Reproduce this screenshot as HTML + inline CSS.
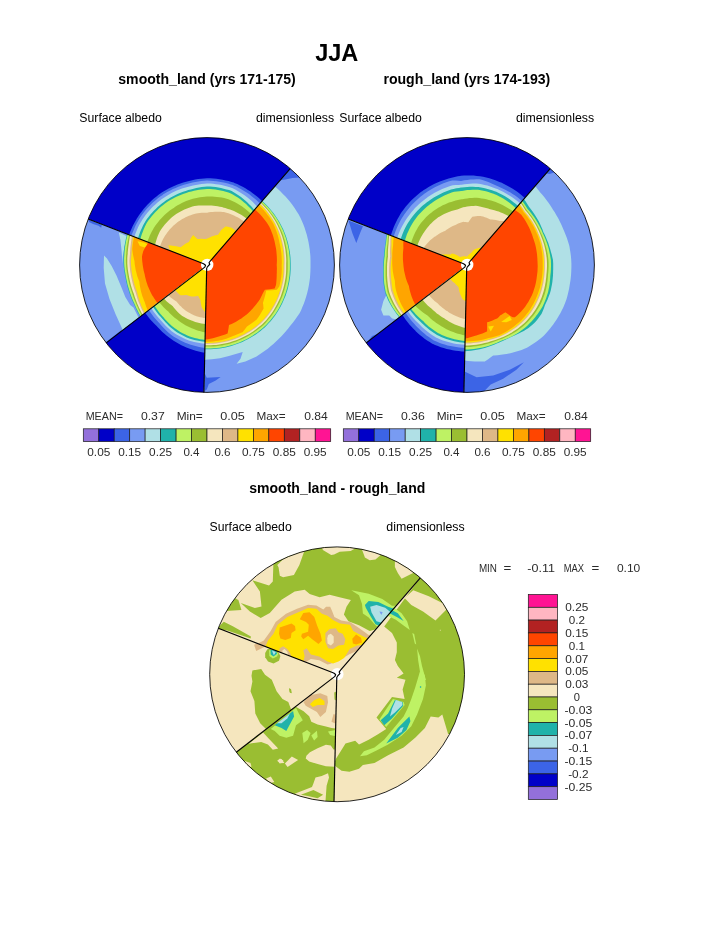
<!DOCTYPE html>
<html><head><meta charset="utf-8"><title>JJA</title>
<style>html,body{margin:0;padding:0;background:#fff}svg{display:block}</style>
</head><body>
<svg width="723" height="935" viewBox="0 0 723 935" font-family="'Liberation Sans', sans-serif">
<defs>
<clipPath id="c0"><circle cx="207" cy="265" r="127.4"/></clipPath>
<clipPath id="c1"><circle cx="467" cy="265" r="127.4"/></clipPath>
<clipPath id="c2"><circle cx="337.1" cy="674.3" r="127.4"/></clipPath>
<clipPath id="sA"><path d="M337.1 674.3L426.9 570.3L410.7 558.2L392.8 548.7L373.8 541.9L354 537.9L333.8 536.9L313.7 538.9L294.1 543.8L275.4 551.5L258.1 561.9L242.4 574.7L228.9 589.7L217.6 606.5L209 624.7Z"/></clipPath>
<clipPath id="sD"><path d="M337.1 674.3L209 624.7L205.4 635L202.8 645.5L200.9 656.2L199.9 667L199.7 677.9L200.5 688.7L202 699.4L204.4 710L207.7 720.4L211.7 730.4L216.5 740.2L222.1 749.5L228.4 758.3Z"/></clipPath>
<clipPath id="sC"><path d="M337.1 674.3L228.4 758.3L234.4 765.6L240.8 772.4L247.8 778.7L255.1 784.6L262.8 789.9L270.9 794.7L279.3 798.9L287.9 802.6L296.8 805.7L305.9 808.1L315.1 809.9L324.4 811.1L333.7 811.7Z"/></clipPath>
<clipPath id="sB"><path d="M337.1 674.3L333.7 811.7L359.6 809.8L384.6 803.2L408 792L428.8 776.6L446.4 757.6L460.1 735.6L469.4 711.5L474 686L473.8 660.1L468.7 634.7L458.9 610.7L444.8 589L426.9 570.3Z"/></clipPath>
</defs>
<rect width="723" height="935" fill="#fff"/>
<g clip-path="url(#c0)" shape-rendering="geometricPrecision">
<path d="M207 265L86.3 218.3L89 211.8L92.1 205.4L95.6 199.2L99.3 193.2L103.4 187.5L107.8 181.9L112.5 176.6L117.5 171.6L122.7 166.8L128.2 162.4L133.9 158.2L139.9 154.4L146 150.9L152.3 147.7L158.8 144.9L165.5 142.4L172.2 140.4L179.1 138.6L186 137.3L193 136.4L200.1 135.8L207.2 135.6L214.2 135.8L221.3 136.4L228.3 137.4L235.2 138.7L242.1 140.5L248.9 142.6L255.5 145L262 147.9L268.3 151L274.4 154.6L280.4 158.4L286.1 162.6L291.6 167Z" fill="#0000c8"/>
<path d="M207 265L129.1 234.9L129.2 234.8L130.1 232.1L131.3 229.3L132.5 226.6L133.8 224L135.2 221.4L136.7 218.8L138 216.7L138.3 216.3L140 213.8L141.8 211.4L143.6 209L145.6 206.8L147.6 204.5L149.7 202.4L151.9 200.3L154.2 198.3L156.5 196.4L158.9 194.6L161.4 192.8L161.7 192.6L163.9 191.2L166.5 189.7L169.2 188.2L171.9 186.9L174.7 185.7L177.5 184.5L180.4 183.5L183.3 182.5L186.2 181.7L189.1 181L189.1 181L192.1 180.2L195.1 179.6L198.1 179.1L201.2 178.7L204.2 178.4L207 178.2L207.3 178.2L210.4 178.3L213.4 178.5L216.5 178.8L219.5 179.2L222.6 179.7L225.6 180.4L228.6 181.1L231.5 181.9L233.8 182.6L234.4 182.9L237.2 184.1L240 185.4L242.7 186.8L245.4 188.3L248 189.9L250.5 191.6L253 193.4L255.4 195.2L257.7 197.1L259.9 199.1L262.1 201.2Z" fill="#3c64e6"/>
<path d="M207 265L131.5 235.8L131.5 235.7L132.4 233.1L133.5 230.4L134.6 227.7L135.8 225.1L137.2 222.5L138.6 220L139.8 218L140.1 217.5L141.8 215.1L143.5 212.8L145.3 210.5L147.2 208.3L149.2 206.2L151.3 204.1L153.4 202.1L155.6 200.2L157.9 198.3L160.2 196.5L162.7 194.9L163 194.6L165.1 193.3L167.7 191.8L170.3 190.4L172.9 189.1L175.6 187.9L178.3 186.7L181.1 185.7L183.9 184.8L186.8 184L189.6 183.2L189.6 183.2L192.5 182.5L195.4 181.9L198.4 181.4L201.3 181.1L204.3 180.8L207 180.6L207.3 180.6L210.3 180.7L213.2 180.9L216.2 181.2L219.2 181.7L222.1 182.2L225 182.8L227.9 183.6L230.8 184.4L233 185.1L233.6 185.4L236.3 186.6L239 187.9L241.6 189.4L244.1 190.9L246.6 192.4L249 194.1L251.3 195.9L253.6 197.7L255.8 199.6L257.9 201.6L260 203.6Z" fill="#789bf2"/>
<path d="M207 265L134.3 236.9L134.3 236.8L135.2 234.2L136.2 231.7L137.3 229.1L138.4 226.6L139.7 224.1L141.1 221.7L142.3 219.7L142.6 219.3L144.2 217L145.8 214.7L147.6 212.5L149.4 210.4L151.3 208.3L153.3 206.3L155.4 204.4L157.5 202.5L159.7 200.7L161.9 199L164.3 197.4L164.6 197.2L166.6 195.9L169.1 194.4L171.6 193.1L174.1 191.8L176.7 190.6L179.4 189.5L182 188.6L184.7 187.7L187.5 186.9L190.2 186.2L190.2 186.2L193 185.5L195.8 184.9L198.7 184.4L201.5 184L204.4 183.7L207 183.5L207.3 183.5L210.2 183.6L213 183.8L215.9 184.2L218.7 184.6L221.6 185.1L224.4 185.7L227.2 186.4L229.9 187.3L232 188L232.6 188.2L235.2 189.5L237.7 190.9L240.2 192.4L242.6 193.9L244.9 195.5L247.2 197.2L249.3 199L251.5 200.8L253.5 202.7L255.4 204.7L257.3 206.7Z" fill="#b0e0e6"/>
<path d="M207 265L138 238.3L138 238.2L138.8 235.8L139.7 233.3L140.6 230.8L141.7 228.4L142.8 226L144.1 223.6L145.2 221.7L145.4 221.3L146.9 219.1L148.5 216.9L150.2 214.8L152 212.8L153.8 210.8L155.7 208.9L157.6 207L159.7 205.3L161.8 203.5L163.9 201.9L166.1 200.3L166.5 200.1L168.4 198.9L170.7 197.5L173.1 196.2L175.5 194.9L178 193.8L180.5 192.7L183.1 191.8L185.7 190.9L188.3 190.1L190.9 189.4L190.9 189.4L193.6 188.7L196.3 188L199 187.5L201.7 187.1L204.5 186.7L207 186.5L207.3 186.5L210 186.6L212.8 186.8L215.6 187.1L218.3 187.6L221 188.1L223.7 188.7L226.4 189.4L229.1 190.1L231.1 190.8L231.7 191.1L234.1 192.5L236.5 194L238.8 195.5L241 197.1L243.1 198.8L245.2 200.5L247.2 202.3L249.1 204.2L251 206.1L252.7 208.1L254.4 210.1Z" fill="#20b2aa"/>
<path d="M207 265L140.3 239.2L140.3 239.1L141 236.7L141.8 234.3L142.7 231.9L143.6 229.5L144.7 227.1L145.8 224.7L146.8 222.8L147 222.5L148.5 220.3L150.1 218.2L151.7 216.2L153.4 214.2L155.2 212.2L157 210.4L158.9 208.6L160.9 206.8L162.9 205.2L165 203.6L167.2 202L167.5 201.8L169.4 200.6L171.7 199.3L174 198L176.4 196.8L178.8 195.7L181.2 194.7L183.7 193.7L186.2 192.9L188.8 192.1L191.4 191.4L191.4 191.4L194 190.8L196.6 190.3L199.2 189.8L201.9 189.4L204.6 189.2L207 189L207.3 189L209.9 189.1L212.6 189.3L215.3 189.6L218 190L220.6 190.5L223.2 191.1L225.8 191.8L228.4 192.5L230.3 193.2L230.9 193.5L233.2 194.8L235.6 196.2L237.8 197.6L240 199.1L242.1 200.7L244.1 202.4L246.1 204.1L247.9 205.9L249.8 207.7L251.5 209.6L253.1 211.6Z" fill="#bef264"/>
<path d="M207 265L147.4 241.9L147.4 241.9L148.1 239.8L149 237.7L149.8 235.6L150.8 233.5L151.8 231.5L153 229.5L153.9 227.8L154.1 227.5L155.4 225.6L156.8 223.7L158.2 221.9L159.7 220.1L161.2 218.4L162.8 216.7L164.5 215.1L166.2 213.5L168 212L169.8 210.6L171.7 209.2L172 209L173.7 207.9L175.6 206.6L177.6 205.3L179.7 204.2L181.8 203.1L184 202.1L186.1 201.1L188.4 200.3L190.6 199.5L192.9 198.8L192.9 198.8L195.3 198.2L197.6 197.7L200 197.3L202.4 196.9L204.8 196.7L207 196.5L207.2 196.5L209.7 196.5L212.1 196.5L214.5 196.7L216.9 196.9L219.4 197.2L221.8 197.6L224.2 198.1L226.6 198.7L228.4 199.2L228.9 199.4L231.2 200.4L233.4 201.4L235.5 202.5L237.7 203.7L239.7 205L241.8 206.3L243.7 207.7L245.7 209.2L247.5 210.7L249.3 212.3L251 214Z" fill="#9abe32"/>
<path d="M207 265L155.1 244.9L155.1 244.9L155.5 243L156.1 241L156.7 239.1L157.3 237.2L158.1 235.3L158.9 233.4L159.7 231.8L159.8 231.5L160.9 229.8L162.1 228.1L163.3 226.4L164.6 224.8L166 223.2L167.4 221.7L168.8 220.2L170.3 218.7L171.9 217.3L173.5 216L175.2 214.7L175.5 214.5L177 213.6L178.8 212.4L180.6 211.4L182.5 210.4L184.4 209.5L186.4 208.7L188.4 207.9L190.4 207.2L192.4 206.6L194.5 206L194.5 206L196.6 205.7L198.7 205.5L200.8 205.4L203 205.4L205.1 205.4L207 205.5L207.2 205.5L209.3 205.5L211.4 205.6L213.5 205.8L215.6 206L217.7 206.3L219.8 206.7L221.9 207.1L223.9 207.7L225.5 208.1L225.9 208.3L228 208.9L230 209.5L232 210.3L234 211.1L235.9 212L237.8 213L239.7 214L241.6 215.1L243.4 216.3L245.1 217.5L246.9 218.8Z" fill="#f5e6be"/>
<path d="M207 265L159.9 246.8L159.9 246.7L160.5 245.1L161.1 243.4L161.8 241.7L162.6 240.1L163.4 238.5L164.3 236.9L165.1 235.6L165.2 235.4L166.3 233.9L167.3 232.4L168.5 231L169.6 229.6L170.9 228.2L172.1 226.9L173.5 225.6L174.8 224.4L176.3 223.2L177.7 222.1L179.2 221.1L179.4 220.9L180.8 220L182.3 219.1L184 218.2L185.6 217.3L187.3 216.6L189 215.8L190.7 215.2L192.5 214.6L194.3 214L196.1 213.5L196.1 213.5L197.9 213.2L199.8 213L201.6 212.8L203.5 212.7L205.3 212.7L207 212.7L207.2 212.7L209 212.3L210.9 212.1L212.8 211.9L214.8 211.7L216.7 211.7L218.7 211.7L220.7 211.8L222.6 211.9L224.2 212.1L224.6 212.2L226.5 212.8L228.4 213.3L230.3 214L232.2 214.7L234 215.5L235.8 216.4L237.6 217.3L239.3 218.3L241 219.4L242.7 220.5L244.4 221.7Z" fill="#deb887"/>
<path d="M207 265L170.3 250.8L170.3 250.8L169.5 249L168.9 247L168.3 245.3L168.8 245.3L172.5 245.7L176.1 246.2L179.7 247L180.8 247.3L181.4 246.8L182.2 246.1L183.1 245.4L184 244.7L185 244.1L185.9 243.5L186.8 243L187.8 242.5L188.8 242L189 241.9L189.4 241L189.9 239.9L190.5 238.9L191.1 237.8L191.8 236.7L192.6 235.7L193.1 235.1L193.9 235.8L195.8 237.6L197.3 239.1L197.5 239.1L198.5 239L199.5 238.9L200.5 238.8L201.4 238.8L202.4 238.8L203.4 238.9L204.3 239L205.2 239.1L205.6 239.1L206.2 238.9L207.1 238.6L208 238.3L208.4 238.1L209 237.8L210.1 237.2L211.1 236.7L212.2 236.3L213.4 235.9L214.6 235.5L215.8 235.2L217 234.9L218 234.7L218.7 233.7L221.4 229.8L221.7 229.6L224.2 227.5L225.5 226.4L226.3 226.5L227.8 226.8L229.4 227.2L231 227.6L232 227.9L232.4 228.3L233.7 229.2L234.9 230.2L236.1 231.2Z" fill="#ffe100"/>
<path d="M207 265L86.3 218.3L83.9 225.3L81.8 232.4L80.1 239.6L78.9 246.8L78.1 254.2L77.6 261.5L77.7 268.9L78.1 276.3L78.9 283.6L80.2 290.9L81.9 298.1L84 305.2L86.5 312.1L89.4 318.9L92.6 325.5L96.3 332L100.3 338.2L104.6 344.1Z" fill="#789bf2"/>
<path d="M118.8 232.6L127.5 236.5L124.5 246.5L122.8 256.5L122.6 264L121.5 250L120.4 240Z" fill="#b0e0e6"/>
<path d="M88.5 219.6L101.8 225L101.2 227.8L98.5 225.8L93 224L89 222Z" fill="#3c64e6"/>
<path d="M105.5 342.5L121.5 329.9L121.3 331.6L107 344Z" fill="#3c64e6"/>
<path d="M104 255.5L103.7 268.1L105 283.6L109.5 299.1L115.7 314.6L123 330.6L138.9 318.2L133.5 307.4L130.2 304.9L125.3 297.1L121.5 287.5L116.6 275.8L111.8 266.2L107 258.4Z" fill="#b0e0e6"/>
<path d="M207 265L127.2 234.1L126.3 237L125.6 240L125 242.9L124.5 245.9L124.1 248.9L124 249.6L123.8 251.9L123.6 254.8L123.4 257.8L123.4 260.8L123.5 263.8L123.6 265L123.7 266.7L124.1 269.6L124.5 272.6L125 275.4L125.4 277.2L125.6 278.3L126.1 281.2L126.8 284L127.5 286.9L128.4 289.7L128.8 291L129.2 292.4L130.2 295.2L131.2 297.9L132.3 300.7L133.6 303.3L134.4 304.9L134.8 306L136 308.7L137.3 311.4L138.7 314L140.2 316.6Z" fill="#20b2aa"/>
<path d="M207 265L127.7 234.3L126.9 237.2L126.2 240.2L126 241.2L125.7 243.1L125.2 246.1L124.8 248.6L124.8 249L124.5 252L124.4 253.4L124.3 254.9L124.1 257.9L124.1 260.2L124.1 260.8L124.2 263.8L124.4 266.7L124.7 269.6L124.9 270.7L125.2 272.5L125.7 275.4L126.2 278.2L126.8 281.1L127.2 282.8L127.4 283.9L128.2 286.7L129 289.5L129.9 292.2L130.8 295L130.8 295L131.8 297.7L132.9 300.4L134.1 303L135.3 305.7L135.6 306.4L136.5 308.4L137.8 311.1L139.2 313.7L140.6 316.3Z" fill="#bef264"/>
<path d="M207 265L129.1 234.9L128.5 237.8L127.9 240.7L127.7 241.7L127.4 243.6L126.9 246.5L126.6 248.9L126.6 249.4L126.3 252.3L126.3 253.7L126.1 255.1L126 258L125.9 260.3L125.9 260.9L126 263.8L126.2 266.7L126.5 269.5L126.7 270.6L126.9 272.3L127.4 275.1L127.9 277.9L128.5 280.7L128.9 282.5L129.1 283.5L129.9 286.2L130.7 288.9L131.6 291.6L132.5 294.3L132.5 294.3L133.4 297L134.4 299.7L135.5 302.3L136.6 305L136.9 305.6L137.8 307.6L139 310.2L140.3 312.8L141.8 315.4Z" fill="#9abe32"/>
<path d="M207 265L130.2 235.3L129.6 238.2L129.1 241.1L129 242L128.7 243.9L128.3 246.8L128 249.2L128 249.6L127.7 252.5L127.7 253.9L127.5 255.3L127.3 258.1L127.3 260.4L127.3 261L127.3 263.8L127.5 266.6L127.8 269.4L128 270.5L128.2 272.2L128.7 275L129.2 277.7L129.8 280.5L130.2 282.2L130.4 283.2L131.1 285.9L131.9 288.5L132.8 291.2L133.8 293.8L133.8 293.8L134.6 296.5L135.5 299.1L136.5 301.8L137.6 304.4L137.9 305.1L138.7 307L139.9 309.6L141.2 312.2L142.6 314.7Z" fill="#f5e6be"/>
<path d="M207 265L131.9 236L131.5 238.8L131.1 241.7L131 242.6L130.8 244.5L130.4 247.3L130.2 249.6L130.2 250.1L130 252.8L130 254.2L129.8 255.6L129.6 258.3L129.4 260.5L129.4 261.1L129.5 263.8L129.7 266.6L130 269.3L130.1 270.4L130.3 272L130.8 274.7L131.3 277.4L131.9 280L132.3 281.7L132.5 282.7L133.2 285.3L134 287.9L134.9 290.5L135.8 293L135.8 293L136.5 295.6L137.3 298.3L138.2 300.9L139.2 303.5L139.5 304.1L140.3 306.1L141.4 308.6L142.7 311.2L144 313.7Z" fill="#deb887"/>
<path d="M207 265L133.1 236.4L132.8 239.3L132.5 242.1L132.5 243.1L132.2 244.9L131.9 247.6L131.7 250L131.7 250.4L131.6 253.1L131.5 254.4L131.4 255.8L131.1 258.5L130.9 260.6L130.9 261.2L131 263.9L131.2 266.6L131.5 269.2L131.6 270.3L131.8 271.9L132.2 274.5L132.7 277.2L133.3 279.8L133.7 281.4L133.9 282.3L134.6 284.9L135.4 287.5L136.3 290L137.2 292.4L137.2 292.5L137.8 295.1L138.6 297.7L139.4 300.3L140.3 302.9L140.6 303.5L141.3 305.4L142.4 308L143.7 310.5L145 312.9Z" fill="#ffe100"/>
<path d="M207 265L134.3 236.9L133.6 239.6L133.1 242.3L132.7 245L132.4 247.7L132.3 249.5L132.4 250.5L132.8 253.3L133.3 256L133.9 258.7L134.4 260.7L134.5 261.3L134.7 263.9L135.1 266.5L135.5 269L135.8 270.4L136.1 271.5L136.7 274L137.4 276.4L138.2 278.8L139.1 281.1L139.3 281.4L139.5 283.6L139.9 286L140.4 288.5L140.9 291L141.3 292.5L141.6 293.4L142.3 295.9L143.2 298.3L144.1 300.7L144.7 302.1L145 303.1L145.9 305.7L146.8 308.2L147.8 310.7Z" fill="#ffa500"/>
<path d="M137.5 241.2L144.7 242.7L148.2 245.1L144.7 247.5L139.9 246.1Z" fill="#ffe100"/>
<path d="M207 265L148.2 242.3L147.5 244L147.3 244.3L146 246.3L144.8 248.3L143.7 250.3L143.3 251L142.9 252.5L142.3 254.8L142 256.4L142 257.1L142.1 259.4L142.3 261.7L142.6 264L142.7 265L142.9 266.3L143.3 268.6L143.7 270.8L144.3 273L144.7 274.5L144.8 275.2L145.3 277.4L145.8 279.5L146.4 281.7L147.1 283.8L147.8 285.9L148.3 287L148.7 287.9L149.6 290L150.5 292L151.5 293.9L152.6 295.9L153.1 296.6L153.8 297.7L155 299.6L156.3 301.4L157.7 303.1Z" fill="#ff4500"/>
<path d="M207 265L104.6 344.1L109.5 350.1L114.7 355.7L120.2 361L126 366L132.2 370.6L138.5 374.8L145.2 378.7L152 382.1L159 385.2L166.2 387.8L173.6 390L181 391.8L188.6 393.1L196.2 393.9L203.8 394.4Z" fill="#0000c8"/>
<path d="M207 265L145.1 312.8L146.8 315.1L148.5 317.3L150.3 319.4L152.2 321.5L154.1 323.5L156.1 325.4L156.2 325.5L158 327.6L160 329.6L162.1 331.7L164.2 333.6L166.5 335.5L168.8 337.3L169.8 338.1L171.2 339L173.6 340.7L176.2 342.3L178.8 343.8L181.4 345.2L184.2 346.5L186.4 347.5L187 347.7L189.8 348.8L192.7 349.8L195.7 350.7L198.7 351.5L201.8 352.2L204.9 352.8Z" fill="#3c64e6"/>
<path d="M207 265L148.8 310L150.3 312.2L151.8 314.3L153.4 316.4L155.1 318.5L156.9 320.4L158.7 322.4L158.8 322.5L160.5 324.5L162.3 326.5L164.2 328.5L166.2 330.5L168.3 332.4L170.4 334.2L171.4 334.9L172.7 335.9L175.1 337.4L177.5 338.8L180 340.2L182.6 341.5L185.2 342.7L187.4 343.6L187.9 343.8L190.7 344.7L193.5 345.6L196.3 346.3L199.1 347L202 347.5L205 348Z" fill="#789bf2"/>
<path d="M207 265L151.2 308.1L152.6 310.2L154 312.3L155.6 314.3L157.2 316.3L158.9 318.2L160.6 320.1L160.7 320.2L162.3 322.1L164.1 324.1L165.9 326L167.8 327.8L169.8 329.6L171.9 331.4L172.8 332.1L174.1 333L176.4 334.4L178.8 335.8L181.2 337L183.6 338.2L186.2 339.4L188.3 340.2L188.7 340.4L191.4 341.2L194.1 341.9L196.8 342.5L199.5 343L202.3 343.4L205.1 343.8Z" fill="#b0e0e6"/>
<path d="M207 265L153 306.7L154.3 308.8L155.7 310.8L157.2 312.8L158.7 314.7L160.4 316.6L162.1 318.4L162.1 318.5L163.7 320.3L165.4 322.3L167.2 324.1L169 325.9L171 327.7L173 329.3L173.9 330L175.1 330.9L177.3 332.4L179.6 333.7L181.9 335L184.3 336.3L186.7 337.4L188.7 338.3L189.2 338.4L191.8 339.2L194.4 339.9L197 340.5L199.7 341L202.4 341.4L205.1 341.8Z" fill="#20b2aa"/>
<path d="M207 265L154.4 305.6L155.7 307.6L157.1 309.6L158.5 311.5L160 313.4L161.6 315.2L163.2 317L163.3 317.1L164.8 318.9L166.5 320.7L168.2 322.5L170 324.3L171.9 326L173.9 327.6L174.8 328.3L176 329.1L178.1 330.5L180.3 331.9L182.6 333.2L184.9 334.3L187.3 335.5L189.2 336.3L189.7 336.5L192.2 337.3L194.7 338L197.3 338.6L199.9 339.2L202.5 339.6L205.2 340Z" fill="#bef264"/>
<path d="M207 265L159.1 302L160.5 303.7L161.9 305.3L163.3 306.9L164.9 308.4L166.4 309.9L168 311.3L168.1 311.3L169.5 312.9L171.1 314.4L172.7 315.9L174.3 317.4L176.1 318.8L177.8 320.1L178.6 320.7L179.7 321.5L181.5 322.8L183.5 324L185.4 325.2L187.5 326.3L189.5 327.3L191.3 328.1L191.7 328.2L193.9 329.1L196.1 329.9L198.3 330.7L200.6 331.3L203 331.9L205.4 332.4Z" fill="#9abe32"/>
<path d="M207 265L163.7 298.4L165.1 299.8L166.5 301.2L168 302.4L169.5 303.7L171 304.8L172.5 305.9L172.6 306L173.7 307.5L175 309L176.3 310.5L177.7 312L179.2 313.4L180.7 314.8L181.3 315.3L182.3 316L184.1 317L185.9 318L187.7 318.9L189.6 319.7L191.5 320.5L193 321.1L193.4 321.2L195.3 321.9L197.3 322.4L199.4 323L201.4 323.4L203.5 323.8L205.6 324.1Z" fill="#f5e6be"/>
<path d="M207 265L168 295.1L169.3 296.3L170.7 297.4L172.1 298.5L173.5 299.5L174.9 300.5L176.4 301.4L176.5 301.4L177.5 302.7L178.6 304L179.8 305.4L181.1 306.6L182.4 307.9L183.7 309.1L184.3 309.6L185.1 310.2L186.6 311.2L188.2 312.2L189.7 313.1L191.4 314L193 314.8L194.4 315.5L194.7 315.6L196.5 316.2L198.3 316.7L200.1 317.2L202 317.6L203.8 318L205.7 318.3Z" fill="#deb887"/>
<path d="M207 265L175 289.8L175.9 290.9L176.9 291.9L177.9 293L178.9 293.9L180 294.9L180.4 295.3L181.5 295.3L183.3 295.2L185.1 295.1L186.3 294.9L186.7 295.1L188 295.5L189.3 295.9L190.5 296.2L191.8 296.4L192.2 296.5L193.1 296.5L194.5 296.4L195.8 296.2L197.1 296L198.1 295.8L198.3 296.2L199.1 297.8L200 299.3L200.4 300L200.7 302.4L201.5 306.6L201.6 307.1L202.8 308.9L204.2 311L204.8 311.7L205.9 312Z" fill="#ffe100"/>
<path d="M207 265L203.8 394.4L210.9 394.3L217.9 393.9L224.9 393.1L231.9 392L238.8 390.4L245.6 388.5L252.3 386.2L258.8 383.6L265.2 380.6L271.4 377.2L277.4 373.6L283.2 369.6L288.8 365.3L294.2 360.6L299.2 355.8L304.1 350.6L308.6 345.2L312.8 339.5L316.7 333.6L320.3 327.6L323.5 321.3L326.4 314.9L328.9 308.3L331.1 301.6L332.9 294.7L334.4 287.8L335.4 280.9L336.1 273.8L336.4 266.8L336.3 259.7L335.8 252.7L335 245.7L333.7 238.7L332.1 231.9L330.1 225.1L327.7 218.5L325 211.9L322 205.6L318.5 199.4L314.8 193.4L310.7 187.7L306.4 182.1L301.7 176.8L296.8 171.8L291.6 167Z" fill="#789bf2"/>
<path d="M280.2 180.2L290.9 167.8L296.2 172.6L300.9 177.4L292.5 178L285.4 179.5Z" fill="#3c64e6"/>
<path d="M205 374L206.8 377.7L220.6 377L215.7 380.5L208.8 383.9L206.8 389.5L204.5 391Z" fill="#3c64e6"/>
<path d="M207 265L274.8 186.4L277.6 188.8L280.3 191.3L282.9 193.9L285.5 196.5L287.9 199.3L290.2 202.1L292.5 205.1L294.6 208.1L296.6 211.2L298.6 214.3L299.9 216.7L300.3 217.6L301.9 220.9L303.3 224.3L304.6 227.8L305.7 231.3L306.8 234.8L307.7 238.4L308.5 242L309.1 245.6L309.7 249.2L310.1 252.9L310.4 256.5L310.5 260.2L310.5 263.9L310.5 265L310.5 267.5L310.4 271.2L310.2 274.8L309.9 278.5L309.4 282.1L308.8 285.7L308.1 289.3L307.2 292.9L306.2 296.4L305.1 299.9L303.9 303.4L302.5 306.8L301.1 310.2L300 312.4L299.4 313.5L297.3 316.6L295.2 319.6L293 322.5L290.7 325.3L289.9 326.3L288.4 328.2L286.1 331L283.7 333.7L281.2 336.4L278.6 338.9L277.6 339.9L276 341.4L273.4 343.9L270.6 346.3L267.8 348.7L256.5 356.5L245.4 361.5L236.6 363.7L240.5 358.7L242.7 352.1L236.6 353.7L228.9 356L220 358.2L212 359.2L205 359.7Z" fill="#b0e0e6"/>
<path d="M207 265L204.9 349.2L205.1 349.2L207.9 349.2L210.8 349.2L213.8 349L216.7 348.8L219.7 348.4L222.6 348L225.5 347.4L228.4 346.7L231.3 346L234.1 345.1L236.9 344.1L239.7 343.1L242.4 341.9L245.1 340.6L247.7 339.3L250.3 337.8L252.9 336.3L255.4 334.7L257.8 333L260.2 331.2L262.5 329.3L264.7 327.4L266.9 325.3L267.1 325.1L268.9 323.1L270.9 320.9L272.8 318.6L274.6 316.2L276.3 313.8L277.9 311.3L279.4 308.8L280.8 306.2L282.2 303.5L283.4 300.8L284.6 298.1L285.7 295.4L286.6 292.6L287.5 289.7L288.2 286.9L288.9 284L289.5 281.1L289.9 278.2L290.3 275.3L290.5 272.4L290.7 269.4L290.7 266.5L290.7 265L290.7 263.5L290.6 260.6L290.5 257.7L290.2 254.8L289.8 251.8L289.3 248.9L288.7 246.1L288.1 243.2L287.3 240.4L286.4 237.5L285.4 234.8L284.3 232L283.2 229.3L281.9 226.7L280.5 224L279.1 221.5L277.5 219L275.9 216.5L274.2 214.1L272.4 211.7L270.5 209.5L268.6 207.3L266.5 205.1L264.4 203L262.2 201Z" fill="#20b2aa"/>
<path d="M207 265L205 348.5L205.1 348.5L207.9 348.5L210.8 348.5L213.7 348.3L216.7 348.1L219.6 347.7L222.5 347.3L225.4 346.7L228.2 346L231.1 345.3L233.9 344.4L236.6 343.5L239.4 342.4L242.1 341.3L244.8 340L247.4 338.7L250 337.2L252.5 335.7L254.9 334.1L257.4 332.4L259.7 330.6L262 328.8L264.2 326.8L266.4 324.8L266.6 324.6L268.4 322.6L270.3 320.4L272.2 318.1L274 315.8L275.7 313.4L277.3 310.9L278.8 308.4L280.2 305.8L281.5 303.2L282.8 300.5L283.9 297.8L284.9 295.1L285.9 292.3L286.7 289.5L287.5 286.7L288.1 283.8L288.7 281L289.1 278.1L289.5 275.2L289.7 272.3L289.9 269.4L289.9 266.5L289.9 265L289.9 263.6L289.9 260.7L289.7 257.7L289.4 254.8L289.1 252L288.6 249.1L288.1 246.2L287.4 243.4L286.6 240.6L285.8 237.8L284.8 235L283.8 232.3L282.6 229.6L281.4 226.9L280 224.3L278.6 221.8L277.1 219.3L275.5 216.8L273.8 214.4L272 212.1L270.1 209.8L268.2 207.6L266.2 205.4L264.1 203.4L261.9 201.4Z" fill="#bef264"/>
<path d="M207 265L205 346.6L205.1 346.6L207.9 346.6L210.7 346.6L213.6 346.4L216.4 346.2L219.3 345.8L222.1 345.4L224.9 344.8L227.7 344.2L230.5 343.4L233.2 342.6L236 341.7L238.6 340.6L241.3 339.5L243.9 338.3L246.4 337L249 335.6L251.4 334.1L253.8 332.5L256.2 330.8L258.5 329.1L260.7 327.3L262.9 325.4L265 323.4L265.2 323.2L266.9 321.3L268.8 319.1L270.6 316.9L272.4 314.6L274 312.2L275.5 309.8L277 307.3L278.4 304.8L279.7 302.2L280.9 299.6L282 297L283 294.3L283.9 291.6L284.7 288.9L285.4 286.1L286.1 283.3L286.6 280.6L287 277.7L287.3 274.9L287.6 272.1L287.7 269.3L287.7 266.4L287.7 265L287.7 263.6L287.7 260.8L287.6 257.9L287.4 255.1L287.1 252.3L286.7 249.5L286.2 246.7L285.6 243.9L284.9 241.1L284.1 238.4L283.2 235.6L282.2 232.9L281.1 230.3L279.9 227.7L278.6 225.1L277.3 222.6L275.8 220.1L274.3 217.6L272.7 215.3L270.9 212.9L269.1 210.7L267.3 208.5L265.3 206.3L263.3 204.2L261.2 202.2Z" fill="#9abe32"/>
<path d="M207 265L205 345.3L205.2 345.3L207.9 345.3L210.7 345.3L213.5 345.1L216.3 344.9L219.1 344.5L221.9 344.1L224.6 343.6L227.4 342.9L230.1 342.2L232.8 341.3L235.5 340.4L238.1 339.4L240.7 338.3L243.3 337.1L245.8 335.8L248.3 334.4L250.7 332.9L253.1 331.4L255.4 329.8L257.6 328L259.8 326.2L262 324.4L264 322.4L264.2 322.2L266 320.4L267.8 318.2L269.6 316L271.3 313.7L272.9 311.4L274.4 309L275.8 306.6L277.2 304.1L278.4 301.6L279.6 299L280.7 296.4L281.6 293.8L282.5 291.1L283.3 288.5L284 285.7L284.6 283L285.1 280.3L285.6 277.5L285.9 274.7L286.1 272L286.2 269.2L286.2 266.4L286.2 265L286.2 263.6L286.3 260.8L286.2 258.1L286 255.3L285.7 252.5L285.4 249.7L284.9 246.9L284.3 244.2L283.7 241.5L282.9 238.8L282.1 236.1L281.1 233.4L280.1 230.8L278.9 228.2L277.7 225.6L276.4 223.1L275 220.6L273.5 218.2L271.9 215.8L270.2 213.5L268.5 211.3L266.6 209.1L264.7 206.9L262.7 204.8L260.7 202.8Z" fill="#f5e6be"/>
<path d="M207 265L205.1 343.8L205.2 343.8L207.8 343.9L210.6 343.8L213.4 343.7L216.1 343.4L218.9 343.1L221.6 342.6L224.3 342.1L227 341.5L229.7 340.7L232.3 339.9L235 339L237.5 338L240.1 336.9L242.6 335.7L245.1 334.5L247.5 333.1L249.9 331.7L252.2 330.1L254.5 328.5L256.7 326.8L258.8 325.1L260.9 323.3L262.9 321.3L263.1 321.1L264.8 319.3L266.6 317.2L268.4 315L270 312.8L271.6 310.5L273.1 308.1L274.5 305.8L275.8 303.3L277 300.9L278.1 298.3L279.2 295.8L280.1 293.2L281 290.6L281.8 288L282.4 285.3L283 282.6L283.5 280L283.9 277.2L284.2 274.5L284.4 271.8L284.5 269.1L284.5 266.4L284.5 265L284.6 263.7L284.6 260.9L284.6 258.2L284.4 255.5L284.2 252.7L283.9 250L283.5 247.3L282.9 244.6L282.3 241.9L281.6 239.2L280.8 236.6L279.9 233.9L278.9 231.3L277.8 228.8L276.6 226.2L275.4 223.7L274 221.3L272.6 218.9L271 216.5L269.4 214.2L267.7 211.9L265.9 209.7L264 207.6L262.1 205.5L260.1 203.5Z" fill="#deb887"/>
<path d="M207 265L205.1 343L205.2 343L207.8 343L210.6 343L213.3 342.8L216 342.6L218.7 342.2L221.4 341.8L224.1 341.3L226.8 340.6L229.4 339.9L232.1 339.1L234.6 338.2L237.2 337.2L239.7 336.1L242.2 334.9L244.6 333.7L247 332.3L249.4 330.9L251.7 329.4L253.9 327.8L256.1 326.2L258.2 324.4L260.3 322.6L262.3 320.7L262.5 320.5L264.2 318.7L265.9 316.6L267.7 314.4L269.3 312.2L270.8 310L272.3 307.6L273.7 305.3L275 302.9L276.2 300.4L277.3 297.9L278.3 295.4L279.2 292.9L280.1 290.3L280.9 287.7L281.5 285.1L282.1 282.4L282.6 279.8L282.9 277.1L283.2 274.4L283.4 271.7L283.5 269L283.5 266.4L283.5 265L283.6 263.7L283.7 261L283.6 258.3L283.5 255.6L283.3 252.9L283 250.2L282.6 247.5L282.1 244.8L281.5 242.1L280.8 239.5L280.1 236.8L279.2 234.2L278.2 231.6L277.2 229.1L276 226.6L274.8 224.1L273.4 221.6L272 219.2L270.5 216.9L268.9 214.6L267.2 212.3L265.5 210.1L263.6 208L261.7 205.9L259.7 203.9Z" fill="#ffe100"/>
<path d="M207 265L205.1 341.9L205.3 341.9L207.8 341.8L210.5 341.7L213.2 341.4L215.9 341.1L218.5 340.7L220.7 340.3L221.1 340.2L223.7 339.5L226.3 338.7L228.8 337.8L231.3 336.8L233.7 335.8L234.5 335.4L236.2 334.8L238.7 333.8L241.1 332.7L242.9 331.9L243.3 331.3L245.1 329.1L246.8 326.8L247 326.4L248.8 325.3L251 323.8L253.1 322.3L255.1 320.8L256.7 319.4L257 319L258.5 316.9L260 314.7L261.3 312.5L262.6 310.3L263.6 308.4L263.5 307.9L263.2 304.6L262.9 302.8L263.3 301.8L264 299.5L264.7 297.1L265 295.9L265.3 294.8L265.8 292.6L266.3 290.4L266.5 290.4L272.3 290.2L276.7 289.8L277.2 289.3L278.9 287.1L279.4 286.3L279.8 284.6L280.4 282L280.9 279.4L281.3 276.8L281.5 274.2L281.6 273.9L281.7 271.6L281.8 268.9L281.7 266.3L281.7 265L281.8 263.7L281.8 261.1L281.7 258.4L281.6 255.8L281.4 253.2L281 250.6L280.6 247.9L280.1 245.3L279.7 243.5L279.5 242.7L279 240.1L278.4 237.5L277.7 234.9L276.8 232.3L275.9 229.7L274.9 227.2L273.8 224.7L273.6 224.2L272.5 222.3L271.1 219.9L269.6 217.6L268 215.4L266.3 213.2L264.5 211L262.7 208.9L260.8 206.9L258.8 205Z" fill="#ffa500"/>
<path d="M207 265L205.2 339.6L205.3 339.6L207.8 339.2L210.4 338.7L212.9 338.2L215.4 337.5L217.9 336.8L217.9 336.8L220.4 336.1L222.8 335.3L225.2 334.4L227.5 333.4L227.6 333.4L228.5 328.6L229 325L229.6 324.8L231.6 323.9L233.6 322.9L235.6 321.9L237.3 320.9L237.6 320.8L239.5 319.6L241.4 318.4L243.2 317.1L245 315.8L245.6 315.3L246.7 314.4L248.3 312.9L249.9 311.4L251.5 309.8L253 308.2L253.9 307.1L254.4 306.5L255.9 304.8L257.2 303.1L258.6 301.3L259.4 300.1L259.8 299.5L260.8 297.5L261.8 295.6L262.7 293.6L262.9 293.2L263.8 291.6L264.9 289.7L264.9 289.7L269.8 289.2L274.7 288.4L274.7 288.4L275.6 286.1L276 284.9L276.2 283.6L276.4 281.1L276.6 278.6L276.7 276.1L276.7 273.8L276.8 273.6L276.8 271.1L276.9 268.7L276.8 266.2L276.7 265L276.8 263.8L276.9 261.3L276.9 258.9L276.8 256.4L276.6 253.9L276.4 251.5L276.1 249L275.6 246.5L275.1 244.1L275 243.4L274.6 241.6L274 239.2L273.3 236.7L272.5 234.3L271.6 231.9L270.7 229.5L269.6 227.2L269.4 226.8L268.3 225L266.9 222.8L265.4 220.8L263.8 218.7L262.2 216.7L260.5 214.8L258.7 213L256.9 211.2L255 209.4Z" fill="#ff4500"/>
</g>
<circle cx="207.2" cy="264.9" r="6.2" fill="#fff"/>
<path d="M290.2 168.6 L210.24 261.03 209.03 262.80 209.80 264.24 208.30 265.90 206.81 267.56" stroke="#000" stroke-width="1.15" fill="none" stroke-linejoin="round"/>
<path d="M88.2 219 L203.60 263.70 205.54 265.18 205.00 266.84" stroke="#000" stroke-width="1.15" fill="none" stroke-linejoin="round"/>
<path d="M106.2 342.9 L205.15 266.84" stroke="#000" stroke-width="1.15" fill="none" stroke-linejoin="round"/>
<path d="M203.9 392.4 L206.70 267.67" stroke="#000" stroke-width="1.15" fill="none" stroke-linejoin="round"/>
<circle cx="207" cy="265" r="127.4" fill="none" stroke="#000" stroke-width="0.85"/>
<g clip-path="url(#c1)" shape-rendering="geometricPrecision">
<path d="M467 265L346.3 218.3L349 211.8L352.1 205.4L355.6 199.2L359.3 193.2L363.4 187.5L367.8 181.9L372.5 176.6L377.5 171.6L382.7 166.8L388.2 162.4L393.9 158.2L399.9 154.4L406 150.9L412.3 147.7L418.8 144.9L425.5 142.4L432.2 140.4L439.1 138.6L446 137.3L453 136.4L460.1 135.8L467.2 135.6L474.2 135.8L481.3 136.4L488.3 137.4L495.2 138.7L502.1 140.5L508.9 142.6L515.5 145L522 147.9L528.3 151L534.4 154.6L540.4 158.4L546.1 162.6L551.6 167Z" fill="#0000c8"/>
<path d="M467 265L390.9 235.6L391.7 232.8L392.7 230L393.7 227.3L394.9 224.6L396.1 221.9L397.4 219.2L398.9 216.7L400.4 214.1L402 211.6L402.1 211.5L403.8 209.2L405.6 206.8L407.6 204.5L409.6 202.3L411.7 200.1L413.9 198L416.2 196L418.5 194L420.9 192.1L422.9 190.7L423.4 190.3L426 188.7L428.6 187.1L431.3 185.5L434.1 184.1L436.9 182.8L439.8 181.6L442.7 180.5L445.6 179.5L448.6 178.5L451.6 177.7L451.7 177.7L454.7 177L457.8 176.3L460 175.9L461 175.8L464.1 175.6L467.3 175.5L470.5 175.5L473.6 175.6L476.8 175.9L479.9 176.2L480 176.2L483.1 176.8L486.2 177.5L489.3 178.3L492.3 179.3L495.3 180.3L498.2 181.4L500.1 182.2L501.2 182.6L504 183.9L506.9 185.4L509.6 186.9L512.3 188.5L515 190.2L517.6 192L520.1 193.9L522.5 195.9L524.9 197.9Z" fill="#3c64e6"/>
<path d="M467 265L393.7 236.6L394.5 234L395.5 231.3L396.5 228.7L397.7 226.1L398.9 223.6L400.2 221.1L401.6 218.6L403.1 216.2L404.7 213.8L404.8 213.7L406.4 211.5L408.2 209.2L410 207L411.9 204.8L413.9 202.7L416 200.7L418.2 198.7L420.4 196.8L422.8 195L424.6 193.6L425.1 193.3L427.6 191.6L430.1 190L432.6 188.5L435.3 187.1L438 185.7L440.7 184.5L443.5 183.3L446.3 182.3L449.2 181.3L452.1 180.5L452.2 180.5L455.2 180.6L458.3 180.8L460.4 181.1L461.3 180.9L464.3 180.3L467.3 179.9L470.3 179.6L473.4 179.4L476.4 179.3L479.5 179.3L479.5 179.3L482.5 180.1L485.4 181L488.3 182L491.1 183.2L493.9 184.4L496.7 185.7L498.4 186.5L499.4 186.9L502.1 188.2L504.8 189.5L507.5 190.9L510.1 192.3L512.6 193.9L515.1 195.6L517.5 197.3L519.9 199.2L522.1 201.1Z" fill="#789bf2"/>
<path d="M467 265L397.1 238L398 235.5L399 233L400 230.5L401.2 228.1L402.4 225.7L403.7 223.4L405.1 221.1L406.6 218.8L408.1 216.6L408.2 216.5L409.7 214.4L411.4 212.3L413.2 210.2L415 208.1L416.9 206.2L418.9 204.3L420.9 202.4L423.1 200.7L425.3 199L427 197.7L427.5 197.3L429.8 195.7L432.2 194.2L434.6 192.8L437.1 191.4L439.6 190.2L442.2 189L444.8 187.9L447.5 186.9L450.2 186L452.9 185.2L453 185.2L455.9 185L458.7 184.9L460.7 184.8L461.6 184.7L464.4 184.3L467.3 183.9L470.2 183.7L473 183.6L476 183.6L478.9 183.7L478.9 183.7L481.7 184.2L484.6 184.9L487.4 185.6L490.2 186.4L492.9 187.4L495.6 188.4L497.3 189.1L498.3 189.6L500.9 190.8L503.5 192.1L506 193.4L508.5 194.9L511 196.5L513.3 198.1L515.6 199.8L517.9 201.6L520.1 203.5Z" fill="#b0e0e6"/>
<path d="M467 265L400.6 239.3L401.4 236.9L402.3 234.5L403.2 232.2L404.3 229.8L405.4 227.5L406.6 225.3L407.9 223.1L409.3 220.9L410.8 218.8L410.8 218.7L412.3 216.7L413.9 214.7L415.6 212.7L417.4 210.7L419.2 208.9L421.1 207.1L423.1 205.3L425.1 203.7L427.2 202.1L428.9 200.9L429.4 200.5L431.6 199L433.8 197.5L436.1 196.2L438.5 194.9L440.9 193.7L443.3 192.5L445.8 191.5L448.4 190.5L451 189.6L453.6 188.9L453.6 188.9L456.3 188.3L459 187.9L460.9 187.6L461.8 187.5L464.5 187.2L467.3 187L470 186.8L472.8 186.8L475.6 186.9L478.4 187L478.4 187L481.1 187.5L483.9 188L486.6 188.7L489.3 189.4L492 190.3L494.6 191.2L496.3 191.8L497.2 192.2L499.7 193.4L502.2 194.7L504.6 196.1L507 197.5L509.3 199.1L511.6 200.7L513.8 202.4L515.9 204.1L518 206Z" fill="#20b2aa"/>
<path d="M467 265L404.8 240.9L405.5 238.6L406.2 236.4L407 234.1L408 231.9L409 229.7L410.1 227.5L411.2 225.4L412.5 223.3L413.8 221.2L413.8 221.2L415.2 219.2L416.7 217.3L418.2 215.3L419.9 213.5L421.6 211.7L423.3 209.9L425.2 208.2L427.1 206.6L429.1 205L430.6 203.8L431.1 203.5L433.1 201.9L435.3 200.5L437.4 199.2L439.7 197.9L442 196.7L444.3 195.5L446.7 194.5L449.1 193.5L451.6 192.6L454.1 191.8L454.1 191.8L456.8 191.4L459.4 191.2L461.2 191L462 190.9L464.6 190.4L467.2 190.1L469.9 189.9L472.6 189.7L475.3 189.7L478 189.7L478 189.7L480.7 190.2L483.3 190.7L485.9 191.3L488.5 192.1L491.1 192.9L493.6 193.8L495.2 194.4L496.1 194.8L498.5 196L500.9 197.3L503.2 198.6L505.5 200.1L507.7 201.6L509.8 203.1L511.9 204.8L514 206.5L515.9 208.3Z" fill="#bef264"/>
<path d="M467 265L411 243.4L411.6 241.3L412.3 239.3L413.1 237.2L413.9 235.2L414.8 233.3L415.8 231.3L416.8 229.4L417.9 227.5L419.1 225.6L419.2 225.6L420.4 223.8L421.8 222.1L423.2 220.4L424.7 218.7L426.2 217.1L427.9 215.6L429.5 214.1L431.3 212.7L433 211.3L434.5 210.2L434.9 210L436.8 208.7L438.7 207.5L440.7 206.4L442.7 205.3L444.8 204.4L446.9 203.5L449 202.6L451.2 201.9L453.4 201.2L455.6 200.6L455.7 200.6L457.9 200L460.2 199.6L461.8 199.3L462.5 199.2L464.9 198.7L467.2 198.4L469.6 198.1L472 197.9L474.4 197.8L476.8 197.8L476.8 197.8L479.2 198.1L481.6 198.4L484 198.8L486.4 199.3L488.7 199.9L491.1 200.6L492.6 201L493.4 201.3L495.7 202.1L498 203L500.3 204L502.5 205L504.7 206.2L506.9 207.4L509 208.7L511.1 210.1L513.1 211.6Z" fill="#9abe32"/>
<path d="M467 265L417.3 245.8L417.9 244L418.6 242.2L419.4 240.5L420.2 238.8L421.1 237.1L422 235.4L423 233.8L424.1 232.2L425.2 230.6L425.3 230.6L426.3 229.1L427.5 227.5L428.8 226.1L430 224.6L431.4 223.2L432.8 221.8L434.2 220.5L435.8 219.2L437.3 218L438.6 217.1L438.9 216.9L440.6 215.9L442.3 214.9L444.1 214L445.9 213.2L447.7 212.4L449.6 211.7L451.5 211.1L453.4 210.5L455.3 210L457.2 209.6L457.3 209.5L459.2 208.7L461.1 208L462.5 207.5L463.1 207.3L465.1 206.9L467.2 206.5L469.3 206.2L471.4 206L473.5 205.9L475.6 205.8L475.6 205.8L477.7 206.1L479.8 206.5L481.9 206.9L484 207.4L486 208L488.1 208.6L489.4 209.1L490.1 209.2L492.3 209.7L494.4 210.2L496.5 210.9L498.7 211.6L500.8 212.4L502.9 213.2L504.9 214.2L507 215.2L509 216.3Z" fill="#f5e6be"/>
<path d="M467 265L423.4 248.2L424.4 246.8L425.4 245.4L426.5 244.2L427.6 242.9L428.8 241.7L429.9 240.6L431.1 239.5L432.4 238.5L433.6 237.6L434.9 236.6L435.3 236.4L436.2 235.7L437.4 234.9L438.7 234.1L440 233.3L441.3 232.6L442.6 231.9L444 231.3L445 230.9L445.3 230.7L446.5 229.8L447.7 229L448.9 228.2L450.1 227.5L451.4 226.8L452.8 226.1L454.1 225.5L454.7 225.3L455.5 224.9L456.8 224.2L458.2 223.6L459.6 223.1L461.1 222.6L462.6 222.1L463.6 221.8L464.1 221.9L465.6 222L467.1 222.2L468.3 222.3L468.7 221.7L470.4 219.2L472.3 216.8L472.4 216.7L474.1 216.4L475.9 216.2L477.7 216.1L479.6 216L480.7 216L481.4 216.2L483.1 216.6L484.9 217.2L486.6 217.8L488.2 218.5L489.9 219.2L490.4 219.5L491.8 219.6L493.8 219.8L495.8 220.1L497.9 220.4L499.9 220.9L500.1 220.9L502.4 221L504.9 221.1Z" fill="#deb887"/>
<path d="M467 265L440.8 254.9L442.6 254.6L444.5 254.4L446.3 254.3L448.1 254.4L449.9 254.6L450.5 254.7L450.8 254.3L451.3 253.9L451.9 253.5L451.9 253.4L453.4 253.8L454.9 254.3L456.4 254.9L457.8 255.6L459.1 256.4L460.2 257.1L460.3 257.1L460.6 256.9L461 256.8L461.3 256.7L461.7 256.6L462 256.5L462.4 256.4L462.8 256.4L463.1 256.3L463.5 256.3L463.8 256.3L464.2 256.3L464.5 256.3L464.8 256.3L465.2 256.3L465.5 256.4L465.8 256.5L466.1 256.5L466.4 256.6L466.7 256.7L467 256.8L467 256.8L467.3 256.3L467.7 255.8L468.1 255.4L468.5 255L468.9 254.5L469.4 254.2L469.9 253.8L470.4 253.4L471 253.1L471.3 252.9L471.7 252.3L472.8 251L473.8 249.9L473.9 249.8L474.8 249.3L475.8 248.9L476.7 248.6L477.7 248.2L478.8 248L479.9 247.8L481 247.6L482.1 247.5Z" fill="#ffe100"/>
<path d="M467 265L346.3 218.3L343.9 225.3L341.8 232.4L340.1 239.6L338.9 246.8L338.1 254.2L337.6 261.5L337.7 268.9L338.1 276.3L338.9 283.6L340.2 290.9L341.9 298.1L344 305.2L346.5 312.1L349.4 318.9L352.6 325.5L356.3 332L360.3 338.2L364.6 344.1Z" fill="#789bf2"/>
<path d="M348.5 220.6L363 226.2L360.5 232L356.3 242.9L352.4 233.2Z" fill="#3c64e6"/>
<path d="M365.5 344.5L380 333L372 336Z" fill="#3c64e6"/>
<path d="M387.3 293.3L383.4 301L381.1 309.7L383.4 315.5L389.2 315.5L392.1 318.4L397 319.4L399.9 313.6L393.1 303L389.2 295.2Z" fill="#b0e0e6"/>
<path d="M467 265L386.8 234L386.2 237L385.8 240L385.5 243.1L385.5 243.2L385 246L384.6 249L384.2 251.9L384 254.9L384 255.8L383.7 257.8L383.4 260.8L383.2 263.7L383.1 266.7L383.2 269.7L383.2 270.6L383.1 272.7L383.1 275.7L383.2 278.7L383.4 281.7L383.5 283.5L383.7 284.8L384.2 287.8L384.7 290.8L385.2 292.7L385.5 293.7L386.6 296.6L387.8 299.4L388.8 301.5L389.2 302.2L390.6 304.8L392.2 307.5L393.9 310L395.6 312.5L397.4 314.9L399.4 317.3Z" fill="#20b2aa"/>
<path d="M467 265L387.2 234.1L386.7 237.2L386.3 240.2L386 243.2L386 243.3L385.5 246.1L385.2 249.1L384.9 252L384.7 255L384.7 255.9L384.4 257.9L384.1 260.8L383.9 263.8L383.9 265L383.8 266.7L383.8 269.7L383.8 272.6L383.8 275.6L383.9 278.6L384.1 281.6L384.2 283.3L384.4 284.6L384.9 287.6L385.4 290.6L385.8 292.5L386.2 293.5L387.3 296.3L388.5 299.1L389.8 301.9L391.2 304.5L392.7 307.2L394.4 309.7L396.1 312.2L397.9 314.6L399.8 317Z" fill="#bef264"/>
<path d="M467 265L388.4 234.6L388 237.6L387.7 240.6L387.5 243.6L387.5 243.7L387.1 246.5L386.8 249.4L386.6 252.3L386.6 255.2L386.6 256.1L386.3 258.1L386 260.9L385.8 263.8L385.7 265L385.6 266.7L385.6 269.6L385.6 272.5L385.6 275.4L385.7 278.3L386 281.2L386.2 282.9L386.3 284.1L386.7 287.1L387.2 290L387.6 291.9L388 292.9L389 295.7L390.1 298.4L391.4 301.1L392.7 303.8L394.2 306.3L395.7 308.9L397.4 311.3L399.1 313.7L400.9 316.1Z" fill="#9abe32"/>
<path d="M467 265L389.3 234.9L388.9 237.9L388.7 240.9L388.5 243.9L388.5 244L388.2 246.8L388 249.6L387.9 252.5L387.9 255.4L388 256.3L387.7 258.2L387.4 261L387.1 263.8L387.1 265L387 266.6L387 269.5L387 272.3L387 275.2L387.2 278.1L387.4 280.9L387.6 282.6L387.7 283.8L388.1 286.7L388.6 289.6L389 291.4L389.3 292.4L390.3 295.2L391.4 297.9L392.6 300.5L393.9 303.2L395.3 305.7L396.8 308.2L398.4 310.7L400 313.1L401.8 315.4Z" fill="#f5e6be"/>
<path d="M467 265L390.7 235.5L390.4 238.5L390.3 241.4L390.3 244.4L390.3 244.4L390.1 247.2L390 250L390 252.8L390.1 255.6L390.2 256.5L389.9 258.4L389.6 261.1L389.3 263.8L389.3 265L389.2 266.6L389.1 269.4L389.1 272.1L389.2 274.9L389.4 277.7L389.7 280.5L389.9 282.1L390 283.3L390.4 286.1L390.8 288.9L391.1 290.7L391.5 291.7L392.4 294.3L393.4 297L394.5 299.6L395.7 302.2L397 304.7L398.4 307.2L399.9 309.6L401.5 312L403.1 314.4Z" fill="#deb887"/>
<path d="M467 265L391.6 235.8L391.5 238.8L391.4 241.8L391.5 244.7L391.5 244.8L391.4 247.5L391.4 250.3L391.5 253.1L391.7 255.8L391.8 256.7L391.5 258.5L391.1 261.2L390.9 263.9L390.8 265L390.7 266.6L390.6 269.3L390.7 272L390.8 274.7L391 277.4L391.3 280.2L391.5 281.7L391.6 282.9L391.9 285.6L392.3 288.4L392.6 290.2L392.9 291.1L393.8 293.8L394.8 296.4L395.8 299L397 301.5L398.2 304L399.6 306.5L401 308.9L402.5 311.3L404.1 313.6Z" fill="#ffe100"/>
<path d="M467 265L393.7 236.6L393.4 239.5L393.2 242.3L393.1 245.1L393.1 245.2L392.8 247.8L392.5 250.5L392.3 253.2L392.3 255.9L392.3 256.7L392.2 258.6L392.2 261.2L392.2 263.9L392.3 265L392.4 266.5L392.6 269.2L392.9 271.8L393.4 274.4L393.9 277L394.5 279.5L394.9 281L394.9 282.1L395.1 284.8L395.4 287.4L395.7 289.1L395.9 290.1L396.7 292.7L397.5 295.2L398.4 297.8L399.4 300.3L400.5 302.7L401.7 305.2L403 307.6L404.4 310L405.8 312.3Z" fill="#ffa500"/>
<path d="M467 265L403.4 240.4L403.3 242.9L403.3 245.4L403.4 247.9L403.4 248L403.2 250.2L403 252.6L402.9 254.9L402.9 257.2L402.9 259.5L403.1 261.8L403.3 264L403.4 265L403.5 266.3L403.8 268.5L404.1 270.8L404.6 273L405.1 275.1L405.6 277.3L406.3 279.4L407 281.5L407.8 283.6L408.7 285.6L408.9 286.1L409.2 287.7L409.7 289.9L410.2 292.1L410.9 294.3L411.6 296.4L412.4 298.6L413.3 300.7L414.3 302.8L415.3 304.9Z" fill="#ff4500"/>
<path d="M467 265L364.6 344.1L369.5 350.1L374.7 355.7L380.2 361L386 366L392.2 370.6L398.5 374.8L405.2 378.7L412 382.1L419 385.2L426.2 387.8L433.6 390L441 391.8L448.6 393.1L456.2 393.9L463.8 394.4Z" fill="#0000c8"/>
<path d="M467 265L402.4 314.9L404 317.3L405.7 319.7L407.5 322.1L409.4 324.4L411.3 326.6L413.4 328.7L415.5 330.8L415.5 330.9L417.6 332.9L419.9 334.9L422.2 336.8L424.6 338.7L427.1 340.4L429.7 342.1L432.3 343.7L433.1 344.1L435.1 345L437.9 346.1L440.8 347.2L443.7 348.1L446.7 348.9L449.7 349.6L452.7 350.2L455.7 350.7L458.8 351.1L461.8 351.4L464.9 351.6Z" fill="#3c64e6"/>
<path d="M467 265L405.5 312.5L407 314.8L408.6 317.1L410.3 319.3L412.1 321.5L414 323.6L415.9 325.7L417.9 327.7L418 327.7L420 329.7L422.1 331.7L424.3 333.6L426.5 335.4L428.9 337.1L431.3 338.8L433.8 340.4L434.5 340.8L436.4 341.6L439.1 342.7L441.9 343.7L444.7 344.6L447.5 345.4L450.4 346L453.3 346.6L456.2 347.1L459.1 347.4L462 347.7L465 347.9Z" fill="#789bf2"/>
<path d="M467 265L407.7 310.9L409.2 313L410.8 315.2L412.5 317.2L414.3 319.3L416.2 321.2L418.1 323.1L420.1 324.9L420.1 325L422 326.9L424 328.7L426.1 330.6L428.3 332.3L430.5 334L432.8 335.6L435.2 337.1L435.9 337.5L437.7 338.3L440.3 339.4L443 340.4L445.6 341.3L448.3 342.1L451.1 342.8L453.8 343.4L456.6 343.9L459.4 344.3L462.2 344.6L465.1 344.8Z" fill="#b0e0e6"/>
<path d="M467 265L409.5 309.5L411 311.5L412.6 313.6L414.3 315.6L416 317.5L417.9 319.3L419.7 321.1L421.7 322.9L421.7 322.9L423.6 324.7L425.5 326.5L427.6 328.3L429.6 329.9L431.8 331.5L434 333.1L436.3 334.5L437 334.9L438.7 335.8L441.2 336.9L443.7 337.9L446.3 338.9L448.9 339.7L451.5 340.5L454.2 341.2L456.9 341.7L459.6 342.2L462.3 342.6L465.1 342.9Z" fill="#20b2aa"/>
<path d="M467 265L410.9 308.4L412.4 310.4L414.1 312.3L415.7 314.2L417.5 316L419.3 317.7L421.2 319.4L423.1 321.1L423.2 321.1L424.9 322.9L426.8 324.7L428.7 326.4L430.8 328L432.9 329.6L435 331.1L437.2 332.5L437.9 332.9L439.6 333.8L441.9 334.9L444.4 335.9L446.9 336.9L449.4 337.7L451.9 338.5L454.5 339.2L457.1 339.8L459.8 340.3L462.5 340.7L465.1 341Z" fill="#bef264"/>
<path d="M467 265L414.9 305.3L416.5 307L418.2 308.6L420 310.1L421.8 311.5L423.7 312.9L425.6 314.2L427.5 315.5L427.5 315.5L429.1 317.1L430.8 318.7L432.6 320.2L434.4 321.6L436.3 323L438.3 324.3L440.3 325.6L440.9 325.9L442.3 326.8L444.4 328L446.5 329.2L448.7 330.2L451 331.2L453.3 332.1L455.6 332.9L458 333.7L460.4 334.3L462.8 334.9L465.3 335.4Z" fill="#9abe32"/>
<path d="M467 265L422.3 299.6L423.6 301.1L424.9 302.6L426.3 304.1L427.7 305.5L429.2 306.8L430.7 308.1L432.3 309.3L432.3 309.4L433.8 310.7L435.3 312.1L436.8 313.4L438.5 314.6L440.1 315.8L441.9 316.9L443.6 318L444.2 318.3L445.4 319.2L447.2 320.3L449 321.5L450.9 322.5L452.8 323.5L454.8 324.4L456.9 325.3L459 326.1L461.1 326.8L463.3 327.4L465.5 328Z" fill="#f5e6be"/>
<path d="M467 265L428.5 294.7L429.7 296L430.8 297.3L432 298.6L433.3 299.7L434.5 300.9L435.9 302L437.2 303L437.3 303.1L438.5 304.3L439.7 305.5L441 306.6L442.4 307.8L443.8 308.8L445.3 309.9L446.8 310.9L447.2 311.1L448.3 311.9L449.8 312.9L451.4 313.8L453.1 314.7L454.8 315.5L456.5 316.3L458.3 317L460.1 317.7L461.9 318.3L463.8 318.8L465.7 319.3Z" fill="#deb887"/>
<path d="M467 265L449.8 278.3L450.2 278.9L450.7 279.5L451.2 280.1L451.8 280.7L452.3 281.2L452.9 281.7L453.5 282.2L454.1 282.7L454.7 283.1L454.8 283.2L455.3 283.8L455.8 284.4L456.4 285L457 285.6L457.6 286.2L458.3 286.8L458.5 286.9L458.7 288.3L459 290.1L459.5 291.9L460.1 293.6L460.3 294.4L460.8 295.4L461.6 297.2L462.5 298.9L462.8 299.3L463.6 300L464.9 300.8L466.1 301.6Z" fill="#ffe100"/>
<path d="M467 265L463.8 394.4L470.9 394.3L477.9 393.9L484.9 393.1L491.9 392L498.8 390.4L505.6 388.5L512.3 386.2L518.8 383.6L525.2 380.6L531.4 377.2L537.4 373.6L543.2 369.6L548.8 365.3L554.2 360.6L559.2 355.8L564.1 350.6L568.6 345.2L572.8 339.5L576.7 333.6L580.3 327.6L583.5 321.3L586.4 314.9L588.9 308.3L591.1 301.6L592.9 294.7L594.4 287.8L595.4 280.9L596.1 273.8L596.4 266.8L596.3 259.7L595.8 252.7L595 245.7L593.7 238.7L592.1 231.9L590.1 225.1L587.7 218.5L585 211.9L582 205.6L578.5 199.4L574.8 193.4L570.7 187.7L566.4 182.1L561.7 176.8L556.8 171.8L551.6 167Z" fill="#789bf2"/>
<path d="M464.6 371.5L476.6 377.2L493.2 375.5L509.8 369.7L523.9 362.2L516.4 369.7L503.2 378.8L490.7 384.6L484.9 390.5L480 395L464.1 395Z" fill="#3c64e6"/>
<path d="M546.1 173.4L550.9 167.8L555.4 171.9L549.6 173.9Z" fill="#3c64e6"/>
<path d="M467 265L464.7 360.6L468 361L471.4 361.3L474.8 361.5L478.2 361.6L481.7 361.5L484.9 361.4L485.1 361.2L488.2 359.2L491.1 357.1L493.2 355.6L494.1 355.5L497.5 355.3L500.9 354.8L504.4 354.3L506.6 353.9L507.8 353.7L511.3 352.9L514.7 352L518.2 351L521.6 349.9L525 348.6L526.4 348L528.2 347L531.3 345.1L534.4 343.1L537.3 341L540.2 338.7L542.9 336.5L543 336.4L545.6 333.7L548 331L550.3 328.2L552.6 325.3L552.9 324.9L554.7 322.3L556.8 319.2L558.7 316.1L560.5 312.9L562.2 309.6L562.9 308.3L563.8 306.3L565.1 302.9L566.2 299.9L566.4 299.4L567.4 295.9L568.3 292.3L569.1 288.7L569.7 285.1L570.1 282.6L570.3 281.4L570.8 277.8L571.1 274.2L571.3 270.5L571.4 266.8L571.4 265L571.4 263.2L571.2 259.5L570.9 255.9L570.4 252.3L569.8 248.7L569.5 246.7L569.1 245.1L568 241.6L566.9 238.1L565.6 234.7L564.3 231.4L563.1 228.7L562.8 228.1L561.4 224.8L559.8 221.5L558.2 218.3L556.4 215.2L554.6 212.1L552.8 209.5L552.6 209.1L550.7 206.1L548.7 203.1L546.6 200.2L544.4 197.3L542.1 194.5L540 192.2L539.7 191.8L537.5 188.9L535.2 186Z" fill="#b0e0e6"/>
<path d="M467 265L464.9 351.3L467.9 351.1L470.9 350.8L473.9 350.3L476.9 349.8L479.8 349.2L482.7 348.5L484.6 347.9L485.6 347.7L488.4 346.8L491.2 345.8L494 344.8L496.7 343.6L499.4 342.4L500.1 342L502.1 341.2L504.8 340.1L507.5 338.8L510.1 337.5L510.8 337.1L512.8 336.3L515.6 335L518.2 333.7L518.3 333.7L521.1 332.3L523.8 330.9L526.5 329.3L527.8 328.4L529.1 327.5L531.5 325.5L533.8 323.5L535.3 322.1L536 321.2L538 318.8L539.8 316.3L541.6 313.7L541.7 313.5L542.9 310.8L544 307.9L545 304.9L545 304.9L546.3 302.2L547.6 299.4L548.7 296.5L549.8 293.7L550.3 292.1L550.7 290.7L551.3 287.7L551.9 284.7L552.4 281.7L552.4 281.5L552.7 278.7L553 275.6L553.1 272.6L553.1 270.7L553.2 269.5L553.2 266.5L553.2 263.5L553 260.5L553 260L552.4 257.5L551.7 254.6L550.9 251.7L550.5 250.3L550.1 248.8L549.2 245.9L548.3 243.1L547.2 240.4L546.1 237.7L544.9 235L543.6 232.5L543.5 232.4L542.5 229.6L541.4 226.9L540.2 224.3L538.9 221.6L537.4 219L535.9 216.5L534.3 214L532.6 211.5L530.9 209.2L529.2 207L529 206.8L527.4 204.2L525.7 201.6L523.8 199.1Z" fill="#20b2aa"/>
<path d="M467 265L464.9 349.6L467.9 349.5L470.9 349.3L473.8 349L476.7 348.6L479.6 348L482.5 347.4L484.4 347L485.4 346.7L488.2 345.9L491 345L493.7 344L496.4 342.9L499.1 341.7L500 341.3L501.8 340.6L504.6 339.6L507.3 338.5L509.5 337.5L510 337.2L512.6 335.9L515.2 334.5L517.8 333L518.2 332.7L520.3 331.3L522.7 329.5L525 327.7L527.3 325.7L527.8 325.2L529.4 323.6L531.5 321.4L533.5 319.2L535.4 316.9L536.4 315.6L537.3 314.5L539 312L540.7 309.5L542.3 307L542.8 306L543.6 304.3L544.8 301.5L545.9 298.7L546.9 295.8L547.8 293L548.1 292.1L548.5 290.1L549.1 287.1L549.6 284.2L549.9 281.2L550.2 278.2L550.3 276L550.4 275.3L550.7 272.4L550.9 269.4L551 266.5L551 263.5L550.9 260.6L550.9 260L550.5 257.7L550 254.8L549.4 251.9L548.8 249.1L548 246.2L547.1 243.5L546.1 240.7L545 238L543.9 235.4L542.7 232.9L542.6 232.8L541.5 230.1L540.2 227.5L538.9 224.9L537.5 222.4L536 220L534.4 217.5L532.7 215.2L531 212.9L529.2 210.7L527.4 208.7L527.3 208.4L525.7 205.9L524 203.5L522.2 201Z" fill="#bef264"/>
<path d="M467 265L465 347.1L467.9 347.1L470.7 346.9L473.6 346.6L476.5 346.3L479.3 345.8L482.1 345.2L484.9 344.6L487.6 343.8L489.4 343.2L490.4 343L493.1 342.1L495.8 341.1L498.4 340L501.1 339L501.5 338.9L503.7 338L506.4 336.8L508.9 335.5L511.5 334.2L511.8 334L514 332.7L516.5 331.2L518.8 329.6L521.2 327.8L522.5 326.7L523.4 325.9L525.6 324L527.7 322L529.7 319.8L531.6 317.6L533.4 315.4L533.6 315.2L535.2 313L536.8 310.6L538.4 308.1L539.9 305.6L541.2 303L542.4 300.3L542.4 300.2L543.4 297.6L544.4 294.9L545.3 292.1L546 289.3L546.6 286.4L547.1 283.6L547.3 282.1L547.5 280.7L547.8 277.9L548 275L548.3 272.2L548.5 269.3L548.6 266.4L548.6 265L548.6 263.6L548.5 260.7L548.2 257.9L547.8 255L547.3 252.2L546.7 249.5L546 246.7L545.2 244L544.3 241.3L543.3 238.6L542.3 236L541.2 233.5L541.1 233.4L540 230.8L538.8 228.2L537.5 225.7L536.1 223.3L534.7 220.8L533.1 218.5L531.5 216.1L529.8 213.9L528 211.7L526.3 209.7L526.2 209.5L524.6 207L523 204.6L521.2 202.2Z" fill="#9abe32"/>
<path d="M467 265L465 345.5L467.9 345.5L470.7 345.3L473.5 345.1L476.3 344.7L479.1 344.3L481.8 343.8L484.6 343.1L487.3 342.4L489 341.9L490 341.6L492.6 340.8L495.3 339.9L497.9 338.9L500.6 338L501 337.8L503.2 336.9L505.8 335.7L508.3 334.4L510.8 333L511.1 332.9L513.2 331.6L515.6 330L517.9 328.4L520.2 326.6L521.5 325.5L522.4 324.8L524.5 322.9L526.5 320.9L528.4 318.8L530.3 316.6L532.1 314.4L532.2 314.2L533.8 312L535.4 309.7L536.9 307.2L538.3 304.7L539.6 302.2L540.7 299.6L540.8 299.4L541.8 296.9L542.7 294.2L543.6 291.5L544.3 288.8L544.9 286L545.4 283.2L545.7 281.7L545.8 280.4L546.2 277.6L546.4 274.8L546.7 272L546.9 269.2L547 266.4L547 265L547 263.6L546.9 260.8L546.7 258L546.3 255.2L545.9 252.5L545.3 249.7L544.7 247L544 244.3L543.1 241.6L542.2 239L541.2 236.4L540.2 233.9L540.1 233.8L539 231.3L537.8 228.7L536.6 226.2L535.2 223.8L533.8 221.4L532.3 219.1L530.7 216.8L529 214.5L527.2 212.3L525.6 210.4L525.4 210.2L523.9 207.7L522.3 205.3L520.6 203Z" fill="#f5e6be"/>
<path d="M467 265L465.1 343.5L467.8 343.5L470.6 343.4L473.3 343.1L476.1 342.8L478.8 342.4L481.5 341.9L484.1 341.3L486.8 340.7L488.5 340.1L489.4 339.9L492.1 339.2L494.7 338.4L497.4 337.6L500 336.7L500.3 336.5L502.5 335.5L505 334.3L507.4 333L509.8 331.6L510.1 331.4L512.2 330.1L514.5 328.6L516.7 326.9L518.9 325.2L520.2 324.1L521 323.4L523.1 321.5L525 319.5L526.9 317.4L528.7 315.3L530.4 313.1L530.6 312.9L532 310.8L533.5 308.5L535 306.1L536.3 303.6L537.5 301.1L538.6 298.6L538.7 298.4L539.7 296L540.6 293.4L541.5 290.8L542.2 288.1L542.8 285.4L543.4 282.7L543.6 281.3L543.8 280L544.2 277.3L544.5 274.6L544.7 271.8L544.9 269.1L544.9 266.4L544.9 265L544.9 263.6L544.9 260.9L544.7 258.2L544.5 255.5L544.1 252.8L543.6 250.1L543 247.4L542.4 244.7L541.6 242.1L540.8 239.5L539.9 236.9L538.9 234.5L538.8 234.4L537.8 231.8L536.7 229.3L535.4 226.9L534.1 224.5L532.7 222.1L531.2 219.8L529.6 217.5L528 215.3L526.3 213.2L524.6 211.3L524.5 211.1L523 208.6L521.4 206.3L519.7 203.9Z" fill="#deb887"/>
<path d="M467 265L465.1 342.6L467.8 342.6L470.5 342.5L473.3 342.3L476 342L478.6 341.6L481.3 341.1L484 340.5L486.6 339.9L488.3 339.4L489.2 339.2L491.9 338.5L494.5 337.8L497.1 336.9L499.7 336.1L500.1 335.9L502.2 334.9L504.6 333.7L507.1 332.4L509.4 331L509.7 330.8L511.7 329.5L514 327.9L516.2 326.3L518.4 324.5L519.6 323.5L520.4 322.7L522.4 320.8L524.4 318.8L526.2 316.8L528 314.7L529.7 312.5L529.8 312.3L531.2 310.3L532.7 307.9L534.1 305.5L535.4 303.1L536.6 300.7L537.7 298.1L537.8 298L538.7 295.6L539.7 293L540.5 290.4L541.2 287.8L541.9 285.2L542.4 282.5L542.7 281.1L542.9 279.8L543.3 277.1L543.6 274.5L543.8 271.8L544 269.1L544 266.4L544 265L544 263.7L544 261L543.9 258.3L543.6 255.6L543.3 252.9L542.8 250.2L542.3 247.6L541.7 244.9L541 242.3L540.2 239.7L539.3 237.1L538.3 234.7L538.3 234.6L537.2 232.1L536.1 229.6L534.9 227.2L533.6 224.8L532.2 222.4L530.7 220.1L529.2 217.9L527.5 215.7L525.8 213.6L524.2 211.7L524.1 211.4L522.6 209L521 206.7L519.4 204.3Z" fill="#ffe100"/>
<path d="M467 265L465.1 341.3L467.8 341.3L470.5 341.2L473.2 341L475.8 340.7L478.5 340.4L481.1 339.9L483.7 339.4L486.3 338.7L488 338.2L488.9 338.1L491.5 337.5L494.1 336.8L496.7 336.1L499.3 335.2L499.7 335.1L501.8 334L504.2 332.8L506.5 331.4L508.8 330L509.1 329.8L511.1 328.5L513.3 327L515.4 325.3L517.5 323.6L518.8 322.5L519.6 321.8L521.5 319.9L523.4 317.9L525.2 315.9L526.9 313.8L528.6 311.7L528.7 311.5L530.1 309.5L531.5 307.1L532.9 304.8L534.1 302.4L535.3 300L536.4 297.5L536.4 297.4L537.4 295L538.3 292.5L539.1 290L539.9 287.4L540.5 284.8L541.1 282.2L541.3 280.8L541.6 279.6L542 276.9L542.3 274.3L542.5 271.7L542.7 269L542.7 266.3L542.7 265L542.7 263.7L542.7 261L542.6 258.4L542.4 255.7L542.1 253.1L541.7 250.4L541.2 247.8L540.7 245.2L540 242.6L539.3 240L538.4 237.5L537.5 235.1L537.5 235L536.4 232.5L535.3 230L534.1 227.6L532.9 225.2L531.5 222.9L530 220.6L528.5 218.4L526.9 216.2L525.2 214.1L523.6 212.2L523.5 212L522 209.6L520.5 207.3L518.8 205Z" fill="#ffa500"/>
<path d="M501.1 322L509.6 316.1L511.8 319.9L506.4 322.2Z" fill="#ffe100"/>
<path d="M488.2 326.6L494 325.7L490.7 331.5Z" fill="#ffe100"/>
<path d="M467 265L465.2 338.4L467.8 337.9L470.3 337.3L472.8 336.6L475.2 335.8L476.3 335.5L477.7 335.1L480 334.3L482.4 333.5L484.7 332.5L486.9 331.5L487.1 331.4L487.1 324.5L487.1 322.3L488.5 321.9L490.5 321.2L492.5 320.5L494.5 319.6L496.5 318.8L497.9 318.1L498.3 317.6L499.7 315.9L500 315.6L501.5 314.7L503.3 313.6L505.1 312.5L505.3 312.3L511.3 316.4L512.8 317.3L515 317.2L515.2 317L517.1 315.4L518.9 313.7L520.7 312L521.4 311.3L522.4 310.1L524 308.2L525.5 306.2L526.9 304.1L527.8 302.8L528.3 302L529.5 299.8L530.7 297.6L531.8 295.4L532.8 293.1L533.2 292.1L533.6 290.7L534.4 288.3L535.1 285.9L535.7 283.5L536.2 281.1L536.6 278.6L536.9 276.1L536.9 276.1L537.2 273.7L537.5 271.2L537.6 268.7L537.7 266.3L537.6 263.8L537.5 261.3L537.4 260.1L537.4 258.8L537.2 256.4L537 253.9L536.6 251.4L536.2 249L535.7 246.5L535.1 244.1L534.4 241.7L533.6 239.3L532.8 237.1L532.8 237L532 234.6L531.1 232.2L530.1 229.8L529.1 227.5L527.9 225.2L526.7 223L525.4 220.8L524 218.6L522.5 216.4L521.1 214.5L520.9 214.4L518.9 212.8L516.8 211.2L514.7 209.7Z" fill="#ff4500"/>
</g>
<circle cx="467.2" cy="264.9" r="6.2" fill="#fff"/>
<path d="M550.2 168.6 L470.24 261.03 469.03 262.80 469.80 264.24 468.30 265.90 466.81 267.56" stroke="#000" stroke-width="1.15" fill="none" stroke-linejoin="round"/>
<path d="M348.2 219 L463.60 263.70 465.54 265.18 465.00 266.84" stroke="#000" stroke-width="1.15" fill="none" stroke-linejoin="round"/>
<path d="M366.2 342.9 L465.15 266.84" stroke="#000" stroke-width="1.15" fill="none" stroke-linejoin="round"/>
<path d="M463.9 392.4 L466.70 267.67" stroke="#000" stroke-width="1.15" fill="none" stroke-linejoin="round"/>
<circle cx="467" cy="265" r="127.4" fill="none" stroke="#000" stroke-width="0.85"/>
<g clip-path="url(#c2)" shape-rendering="geometricPrecision">
<circle cx="337.1" cy="674.3" r="128.4" fill="#f5e6be"/>
<g clip-path="url(#sA)">
<path d="M273.5 559.9L272.8 581.5L269 585.6L252.4 580.3L259.9 591.5L261.5 606.4L254.9 608L240.8 603.1L249.9 611.4L260.7 618L269.8 613L281.5 599.8L294.7 591.5L304.7 589.8L309.7 593.9L319.6 597.3L329.6 594.8L339.5 597.3L350.9 600L346.5 606.8L343.9 614.6L348.4 621.3L359 625.2L369.7 631L374.9 629.5L420 578.1L438.4 559.4L438.4 511L273.5 526.7Z" fill="#9abe32"/>
<path d="M216 629L223.8 621.7L232.8 626.2L250.9 636.6L250.6 638.6L239.8 634.7L227.3 630.6Z" fill="#9abe32"/>
<path d="M225.9 610.9L241.4 609.9L238.4 600L232.8 597Z" fill="#9abe32"/>
<path d="M304.7 550L299.4 564.9L293.9 574.9L283.1 577.3L279.8 575.7L278.6 567.4L277.3 564.9L283.9 558.6Z" fill="#f5e6be"/>
<path d="M320.5 544L322.9 550L331.2 554.9L334.1 554.5L339.7 551.8L350.7 551.1L355 548.5L355 544Z" fill="#f5e6be"/>
<path d="M361 546.8L381.3 554.5L375.5 559.4L369.7 560.3L364.9 557.4Z" fill="#f5e6be"/>
<path d="M394.9 560.3L415.2 572L401.6 578.7L397.8 572.9L394.9 567.1Z" fill="#f5e6be"/>
<path d="M254.1 645.5L263.8 640.6L270.7 631L275.6 622L286 613.7L297 608.8L308.1 604.7L316.4 605.4L323.3 609.5L326.1 606.8L330.2 606.8L332.3 611.6L334.4 617.1L341.3 620.6L350 622L359 628.1L368.7 634.9L373 634.3L360 649.4L349.4 654.3L339.7 660.1L330 663.9L327.5 664.4L319.2 660.3L310.9 658.9L304.6 662.8L265.2 647.3L256.2 651Z" fill="#deb887"/>
<path d="M265.2 647L268 640.6L273.5 633.7L277.7 624.7L287.3 617.1L298.4 612.3L308.1 608.1L316.4 608.8L321.9 613.7L327.5 615.7L333 619.9L339.9 623.4L350 624.7L353.2 631L363.9 636.8L368.7 639.1L363.9 644.8L357.1 645.5L349.9 648.8L344.1 657.9L338.5 661.4L333 663.5L327.5 661.4L319.2 656.5L310.9 654.5L306.7 648.3L303.3 650.3L304.6 655.9L303.3 661.9L291.5 657.4L290.1 653.1L287.3 648.9L283.2 646.2L279.7 648.3L279 652.5Z" fill="#ffe100"/>
<path d="M282.5 650.3L284.6 648.9L287.3 651.7L288.5 656.1L282.1 653.6Z" fill="#f5e6be"/>
<path d="M279.7 627.5L291.5 623.4L295 626.1L295.6 630.3L291.5 633L290.8 637.9L285.3 640L280.4 638.6L279 633.7Z" fill="#ffa500"/>
<path d="M299.8 619.2L303.3 613L309.5 612.3L314.3 617.1L317.1 625.4L320.5 633.7L321.9 640.6L318.5 644.1L312.2 639.3L308.1 635.8L303.3 639.3L301.2 636.5L301.9 633.7L308.1 631.7L308.8 624.7L306 622Z" fill="#ffa500"/>
<path d="M325.4 633L329.5 628.9L335.8 628.2L338.5 632.3L342.7 633.7L345.4 639.3L344.1 644.8L338.5 645.5L333 648.9L328.1 648.3L325.4 642Z" fill="#deb887"/>
<path d="M328.1 635.1L330.9 633.7L333.7 636.5L333.7 642.7L330.9 645.5L327.5 643.4L327.2 638.6Z" fill="#f5e6be"/>
<path d="M352.3 638.8L356.1 634.5L361 637.8L362 642.6L356.1 644.6L352.9 643.6Z" fill="#ffa500"/>
<path d="M351.3 590.3L368.7 593.8L382.3 599.1L392 605.8L396.8 605.8L380.3 627.1L376.5 626.2L373.6 623.3L368.7 617.5L362.9 613.6L362 603.9L359 595.2Z" fill="#bef264"/>
<path d="M364.9 604.9L368.7 601L378.4 602L388.1 606.8L393.9 608.7L380 626.2L375.5 624.2L370.7 616.5L365.8 607.8Z" fill="#20b2aa"/>
<path d="M370.1 606.8L376.5 604.9L385.2 607.8L390.4 612L382.3 622.9L376.5 621.3L371.6 612.6Z" fill="#b0e0e6"/>
<path d="M379.4 611.6L382.7 612L381.3 615.1Z" fill="#789bf2"/>
</g>
<g clip-path="url(#sB)">
<path d="M384.2 626.4L392 633L396.8 642.6L396.8 652.3L394.9 660.1L397.8 665.9L403.6 673.6L396.8 677.7L405.5 679.7L402.6 689.4L404.6 699L392 697.1L376.5 717.4L386.2 729.1L378.4 733.9L368.7 739.7L359 744.6L355.2 740.7L345.5 743.6L340.7 751.3L335.8 759.1L333.9 764.9L341.6 770.7L349.4 771.7L359 768.8L362.9 764.9L374.5 763L388.1 755.2L403.6 747.5L415.2 737.8L424.9 728.1L430.7 716.5L438.4 717.4L442.3 714.5L448.1 733.9L484.9 733.9L484.9 540L426.8 569L420 578.1Z" fill="#9abe32"/>
<path d="M404.6 598.1L413.3 590.3L428.8 596.2L444.3 603.9L446.2 609.7L435.5 620.4L423 611.6L411.3 604.9Z" fill="#f5e6be"/>
<path d="M439.8 629.7L441 629.7L441 630.8L439.8 630.8Z" fill="#d4d98a"/>
<path d="M393.9 607.4L401.6 613.2L407.1 621.3L409.8 630L404.6 626.2L395.8 619.8L388.1 615.9L386.2 616.7Z" fill="#bef264"/>
<path d="M391.6 610.1L397.8 613.2L403.6 620.9L396.8 617.1L389.6 613.2Z" fill="#20b2aa"/>
<path d="M412.3 633L414.2 633.9L416.2 644.6L414.8 643.6Z" fill="#bef264"/>
<path d="M417.1 648.4L420 656.2L422 665.9L425.9 680L419.1 680L420 671.7L418.1 660.1Z" fill="#bef264"/>
<path d="M421 668.1L424.9 675.8L425.9 685.5L423 699L417.1 714.5L411.3 726.2L401.6 735.8L388.1 744.6L376.5 750.4L366.8 755.2L360 756.2L363.9 751.3L374.5 747.5L384.2 739.7L393.9 728.1L403.6 716.5L407.5 708.7L411.3 699L415.2 687.4L418.1 677.7Z" fill="#bef264"/>
<path d="M409.4 716.5L410.4 721.3L406.5 730L397.8 737.8L386.2 743.6L392 735.8L397.8 728.1L404.6 721.3Z" fill="#20b2aa"/>
<path d="M395.8 734.9L400.7 728.1L403.6 727.1L401.6 732Z" fill="#b0e0e6"/>
<path d="M419.9 686.3L421.2 686.3L421.2 687.8L419.9 687.8Z" fill="#20b2aa"/>
<path d="M392.9 699L403.6 702L404.6 704.9L386.2 727.1L379.4 719.4Z" fill="#bef264"/>
<path d="M394.9 700L402.6 702L403.2 705.8L392 718.4L384.2 725.2L380.7 720.3L388.1 713.6Z" fill="#20b2aa"/>
<path d="M395.8 700L402 702L402.6 704.9L394.9 712.6L390 716.5L392 708.7Z" fill="#b0e0e6"/>
</g>
<g clip-path="url(#sC)">
<path d="M337.1 674.3L231.6 755.9L236.6 762L241.9 767.8L247.6 773.2L253.6 778.4L260 783.1L266.5 787.5L273.4 791.5L280.4 795.1L287.6 798.2L295.1 800.9L302.6 803.2L310.3 805L318.1 806.3L326 807.2L333.8 807.7Z" fill="#9abe32"/>
<path d="M337.1 672.3L295.3 706.4L303.6 711.3L309.2 716.2L311.3 721.7L317.6 724.5L325.9 726.6L331.5 728L338.4 728.7L338.4 674.4Z" fill="#f5e6be"/>
<path d="M306.4 755.8L309.9 752.3L317.6 748.2L325.9 744.7L330.8 745.4L333.5 749.5L338.4 749.5L338.4 766.9L325.9 766.2L317.6 764.1L309.2 761.4L305.7 758.6Z" fill="#f5e6be"/>
<path d="M284.9 763.4L291.8 756.5L298.1 760L287.6 766.9Z" fill="#f5e6be"/>
<path d="M280 758.6L283.5 760.7L280 763.4L277.2 760.7Z" fill="#f5e6be"/>
<path d="M248.6 744L263.1 732.4L268.9 738.7L278.2 748.4L272.8 749.8L267.9 744.6L261.2 742L251.5 743.2Z" fill="#f5e6be"/>
<path d="M278.6 761L281.5 759.1L284.4 763L279.6 763.3Z" fill="#f5e6be"/>
<path d="M244.7 761L250.5 763L251.5 766.8L246.6 766.8Z" fill="#f5e6be"/>
<path d="M266 778.4L270.8 776.5L274.3 781.9L269.9 783.3Z" fill="#f5e6be"/>
<path d="M295.3 793.4L312 787.1L313.4 783.6L315.5 777.4L321.7 776L328 773.2L329 777.4L326.6 785.7L325.2 805.2L295.3 805.2Z" fill="#f5e6be"/>
<path d="M300.9 794.7L313.4 789.9L323.1 794.7L317.6 798.2L307.8 796.1Z" fill="#9abe32"/>
<path d="M303.6 702.3L309.9 695.3L320.3 693.2L327.3 696L328 702.3L325.9 712L320.3 716.9L316.9 712L310.6 708.5L305.7 705.7Z" fill="#deb887"/>
<path d="M309.9 704.3L314.1 700.2L319.6 698.1L324.5 700.9L324.5 705L317.6 705L312.7 707.1Z" fill="#ffe100"/>
<path d="M331.5 721.7L333.5 714.1L335.6 714.8L335.6 723.8Z" fill="#deb887"/>
<path d="M302.3 732.9L307.1 730.1L310.6 732.9L307.8 739.8L303.6 743.3Z" fill="#bef264"/>
<path d="M311.3 735.6L316.9 730.8L317.6 737L314.1 740.5Z" fill="#bef264"/>
<path d="M328 731.5L335.6 730.1L335.6 736.3L330.1 734.9Z" fill="#bef264"/>
<path d="M334.2 692.5L335.9 691.8L335.9 700.2L334.5 699.5Z" fill="#9abe32"/>
<path d="M316.4 687.6L318.9 686.7L318.9 689.2L316.9 689.5Z" fill="#9abe32"/>
<path d="M270.8 729.1L296 707.8L298.9 713.6L302.8 720.3L296 725.2L293.1 735.8L286.3 737.8L279.6 735.8L274.7 731Z" fill="#bef264"/>
<path d="M274.7 725.2L293.1 711.1L294.1 716.5L286.3 731L281.5 728.1Z" fill="#20b2aa"/>
<path d="M277 723.3L289.8 713.8L287.3 718.4L281.5 723.3Z" fill="#b0e0e6"/>
</g>
<g clip-path="url(#sD)">
<path d="M252.4 670.4L261.2 669L265 674.8L271.8 679.7L276.6 691.3L282.5 699L288.3 702L291.2 709.7L267 730L260.2 723.3L255.3 713.6L254.4 701L250.5 691.3L252.4 681.6L251.5 675.8Z" fill="#9abe32"/>
<path d="M289.2 688.4L291.2 689.4L291.2 693.2L289.6 692.3Z" fill="#9abe32"/>
<path d="M289 688.3L290.8 689L291.8 693.2L290 692.5Z" fill="#9abe32"/>
<path d="M254.1 644.8L256.2 651L265.2 646.5L262.4 641.3Z" fill="#deb887"/>
<path d="M265.2 653.1L267.3 649.2L272.1 648.3L277.7 651L280.4 655.9L279 660.7L273.5 663.5L268 661.4L265.2 657.2Z" fill="#9abe32"/>
<path d="M269.1 650.3L274.2 649.6L278.4 653.8L277 656.5L272.8 658.6L269.4 655.9Z" fill="#bef264"/>
<path d="M270.5 650L276 650.3L277 653.8L273.5 656.5L270.7 654.5Z" fill="#20b2aa"/>
<path d="M271.9 650.6L275.9 652L273.8 655.2Z" fill="#b0e0e6"/>
</g>
</g>
<circle cx="337.3" cy="674.2" r="6.2" fill="#fff"/>
<path d="M420.3 577.9 L340.34 670.33 339.13 672.10 339.90 673.54 338.40 675.20 336.91 676.86" stroke="#000" stroke-width="1.15" fill="none" stroke-linejoin="round"/>
<path d="M218.3 628.3 L333.70 673.00 335.64 674.48 335.10 676.14" stroke="#000" stroke-width="1.15" fill="none" stroke-linejoin="round"/>
<path d="M236.3 752.2 L335.25 676.14" stroke="#000" stroke-width="1.15" fill="none" stroke-linejoin="round"/>
<path d="M334 801.7 L336.80 676.97" stroke="#000" stroke-width="1.15" fill="none" stroke-linejoin="round"/>
<circle cx="337.1" cy="674.3" r="127.4" fill="none" stroke="#000" stroke-width="0.85"/>
<text x="315.2" y="61" font-size="23.5" font-weight="bold" textLength="43.2" lengthAdjust="spacingAndGlyphs" fill="#000">JJA</text>
<text x="118.3" y="83.8" font-size="14.1" font-weight="bold" textLength="177.5" lengthAdjust="spacingAndGlyphs" fill="#000">smooth_land (yrs 171-175)</text>
<text x="383.4" y="83.8" font-size="14.1" font-weight="bold" textLength="166.9" lengthAdjust="spacingAndGlyphs" fill="#000">rough_land (yrs 174-193)</text>
<text x="249.3" y="492.8" font-size="14.1" font-weight="bold" textLength="176" lengthAdjust="spacingAndGlyphs" fill="#000">smooth_land - rough_land</text>
<text x="79.3" y="122.1" font-size="12.3" textLength="82.5" lengthAdjust="spacingAndGlyphs" fill="#000">Surface albedo</text>
<text x="256" y="122.1" font-size="12.3" textLength="78.1" lengthAdjust="spacingAndGlyphs" fill="#000">dimensionless</text>
<text x="339.3" y="122.1" font-size="12.3" textLength="82.5" lengthAdjust="spacingAndGlyphs" fill="#000">Surface albedo</text>
<text x="516" y="122.1" font-size="12.3" textLength="78.1" lengthAdjust="spacingAndGlyphs" fill="#000">dimensionless</text>
<text x="209.5" y="531" font-size="12.3" textLength="82.2" lengthAdjust="spacingAndGlyphs" fill="#000">Surface albedo</text>
<text x="386.3" y="531" font-size="12.3" textLength="78.4" lengthAdjust="spacingAndGlyphs" fill="#000">dimensionless</text>
<text x="85.7" y="420.4" font-size="10.8" textLength="37.2" lengthAdjust="spacingAndGlyphs" fill="#2b2b2b">MEAN=</text>
<text x="140.9" y="420.4" font-size="10.8" textLength="23.8" lengthAdjust="spacingAndGlyphs" fill="#2b2b2b">0.37</text>
<text x="176.7" y="420.4" font-size="10.8" textLength="26.1" lengthAdjust="spacingAndGlyphs" fill="#2b2b2b">Min=</text>
<text x="220.3" y="420.4" font-size="10.8" textLength="24.6" lengthAdjust="spacingAndGlyphs" fill="#2b2b2b">0.05</text>
<text x="256.5" y="420.4" font-size="10.8" textLength="29.1" lengthAdjust="spacingAndGlyphs" fill="#2b2b2b">Max=</text>
<text x="304.2" y="420.4" font-size="10.8" textLength="23.6" lengthAdjust="spacingAndGlyphs" fill="#2b2b2b">0.84</text>
<rect x="83.3" y="428.8" width="15.5" height="12.8" fill="#9370db" stroke="#1a1a1a" stroke-width="0.7"/>
<rect x="98.8" y="428.8" width="15.5" height="12.8" fill="#0000c8" stroke="#1a1a1a" stroke-width="0.7"/>
<rect x="114.2" y="428.8" width="15.5" height="12.8" fill="#3c64e6" stroke="#1a1a1a" stroke-width="0.7"/>
<rect x="129.7" y="428.8" width="15.5" height="12.8" fill="#789bf2" stroke="#1a1a1a" stroke-width="0.7"/>
<rect x="145.1" y="428.8" width="15.5" height="12.8" fill="#b0e0e6" stroke="#1a1a1a" stroke-width="0.7"/>
<rect x="160.6" y="428.8" width="15.5" height="12.8" fill="#20b2aa" stroke="#1a1a1a" stroke-width="0.7"/>
<rect x="176.1" y="428.8" width="15.5" height="12.8" fill="#bef264" stroke="#1a1a1a" stroke-width="0.7"/>
<rect x="191.5" y="428.8" width="15.5" height="12.8" fill="#9abe32" stroke="#1a1a1a" stroke-width="0.7"/>
<rect x="207" y="428.8" width="15.5" height="12.8" fill="#f5e6be" stroke="#1a1a1a" stroke-width="0.7"/>
<rect x="222.5" y="428.8" width="15.5" height="12.8" fill="#deb887" stroke="#1a1a1a" stroke-width="0.7"/>
<rect x="237.9" y="428.8" width="15.5" height="12.8" fill="#ffe100" stroke="#1a1a1a" stroke-width="0.7"/>
<rect x="253.4" y="428.8" width="15.5" height="12.8" fill="#ffa500" stroke="#1a1a1a" stroke-width="0.7"/>
<rect x="268.8" y="428.8" width="15.5" height="12.8" fill="#ff4500" stroke="#1a1a1a" stroke-width="0.7"/>
<rect x="284.3" y="428.8" width="15.5" height="12.8" fill="#b22222" stroke="#1a1a1a" stroke-width="0.7"/>
<rect x="299.8" y="428.8" width="15.5" height="12.8" fill="#ffb6c1" stroke="#1a1a1a" stroke-width="0.7"/>
<rect x="315.2" y="428.8" width="15.5" height="12.8" fill="#ff1493" stroke="#1a1a1a" stroke-width="0.7"/>
<text x="98.8" y="455.7" font-size="10.4" text-anchor="middle" textLength="23" lengthAdjust="spacingAndGlyphs" fill="#2b2b2b">0.05</text>
<text x="129.7" y="455.7" font-size="10.4" text-anchor="middle" textLength="23" lengthAdjust="spacingAndGlyphs" fill="#2b2b2b">0.15</text>
<text x="160.6" y="455.7" font-size="10.4" text-anchor="middle" textLength="23" lengthAdjust="spacingAndGlyphs" fill="#2b2b2b">0.25</text>
<text x="191.5" y="455.7" font-size="10.4" text-anchor="middle" textLength="16.2" lengthAdjust="spacingAndGlyphs" fill="#2b2b2b">0.4</text>
<text x="222.5" y="455.7" font-size="10.4" text-anchor="middle" textLength="16.2" lengthAdjust="spacingAndGlyphs" fill="#2b2b2b">0.6</text>
<text x="253.4" y="455.7" font-size="10.4" text-anchor="middle" textLength="23" lengthAdjust="spacingAndGlyphs" fill="#2b2b2b">0.75</text>
<text x="284.3" y="455.7" font-size="10.4" text-anchor="middle" textLength="23" lengthAdjust="spacingAndGlyphs" fill="#2b2b2b">0.85</text>
<text x="315.2" y="455.7" font-size="10.4" text-anchor="middle" textLength="23" lengthAdjust="spacingAndGlyphs" fill="#2b2b2b">0.95</text>
<text x="345.7" y="420.4" font-size="10.8" textLength="37.2" lengthAdjust="spacingAndGlyphs" fill="#2b2b2b">MEAN=</text>
<text x="400.9" y="420.4" font-size="10.8" textLength="23.8" lengthAdjust="spacingAndGlyphs" fill="#2b2b2b">0.36</text>
<text x="436.7" y="420.4" font-size="10.8" textLength="26.1" lengthAdjust="spacingAndGlyphs" fill="#2b2b2b">Min=</text>
<text x="480.3" y="420.4" font-size="10.8" textLength="24.6" lengthAdjust="spacingAndGlyphs" fill="#2b2b2b">0.05</text>
<text x="516.5" y="420.4" font-size="10.8" textLength="29.1" lengthAdjust="spacingAndGlyphs" fill="#2b2b2b">Max=</text>
<text x="564.2" y="420.4" font-size="10.8" textLength="23.6" lengthAdjust="spacingAndGlyphs" fill="#2b2b2b">0.84</text>
<rect x="343.3" y="428.8" width="15.5" height="12.8" fill="#9370db" stroke="#1a1a1a" stroke-width="0.7"/>
<rect x="358.8" y="428.8" width="15.5" height="12.8" fill="#0000c8" stroke="#1a1a1a" stroke-width="0.7"/>
<rect x="374.2" y="428.8" width="15.5" height="12.8" fill="#3c64e6" stroke="#1a1a1a" stroke-width="0.7"/>
<rect x="389.7" y="428.8" width="15.5" height="12.8" fill="#789bf2" stroke="#1a1a1a" stroke-width="0.7"/>
<rect x="405.2" y="428.8" width="15.5" height="12.8" fill="#b0e0e6" stroke="#1a1a1a" stroke-width="0.7"/>
<rect x="420.6" y="428.8" width="15.5" height="12.8" fill="#20b2aa" stroke="#1a1a1a" stroke-width="0.7"/>
<rect x="436.1" y="428.8" width="15.5" height="12.8" fill="#bef264" stroke="#1a1a1a" stroke-width="0.7"/>
<rect x="451.5" y="428.8" width="15.5" height="12.8" fill="#9abe32" stroke="#1a1a1a" stroke-width="0.7"/>
<rect x="467" y="428.8" width="15.5" height="12.8" fill="#f5e6be" stroke="#1a1a1a" stroke-width="0.7"/>
<rect x="482.5" y="428.8" width="15.5" height="12.8" fill="#deb887" stroke="#1a1a1a" stroke-width="0.7"/>
<rect x="497.9" y="428.8" width="15.5" height="12.8" fill="#ffe100" stroke="#1a1a1a" stroke-width="0.7"/>
<rect x="513.4" y="428.8" width="15.5" height="12.8" fill="#ffa500" stroke="#1a1a1a" stroke-width="0.7"/>
<rect x="528.9" y="428.8" width="15.5" height="12.8" fill="#ff4500" stroke="#1a1a1a" stroke-width="0.7"/>
<rect x="544.3" y="428.8" width="15.5" height="12.8" fill="#b22222" stroke="#1a1a1a" stroke-width="0.7"/>
<rect x="559.8" y="428.8" width="15.5" height="12.8" fill="#ffb6c1" stroke="#1a1a1a" stroke-width="0.7"/>
<rect x="575.2" y="428.8" width="15.5" height="12.8" fill="#ff1493" stroke="#1a1a1a" stroke-width="0.7"/>
<text x="358.8" y="455.7" font-size="10.4" text-anchor="middle" textLength="23" lengthAdjust="spacingAndGlyphs" fill="#2b2b2b">0.05</text>
<text x="389.7" y="455.7" font-size="10.4" text-anchor="middle" textLength="23" lengthAdjust="spacingAndGlyphs" fill="#2b2b2b">0.15</text>
<text x="420.6" y="455.7" font-size="10.4" text-anchor="middle" textLength="23" lengthAdjust="spacingAndGlyphs" fill="#2b2b2b">0.25</text>
<text x="451.5" y="455.7" font-size="10.4" text-anchor="middle" textLength="16.2" lengthAdjust="spacingAndGlyphs" fill="#2b2b2b">0.4</text>
<text x="482.5" y="455.7" font-size="10.4" text-anchor="middle" textLength="16.2" lengthAdjust="spacingAndGlyphs" fill="#2b2b2b">0.6</text>
<text x="513.4" y="455.7" font-size="10.4" text-anchor="middle" textLength="23" lengthAdjust="spacingAndGlyphs" fill="#2b2b2b">0.75</text>
<text x="544.3" y="455.7" font-size="10.4" text-anchor="middle" textLength="23" lengthAdjust="spacingAndGlyphs" fill="#2b2b2b">0.85</text>
<text x="575.2" y="455.7" font-size="10.4" text-anchor="middle" textLength="23" lengthAdjust="spacingAndGlyphs" fill="#2b2b2b">0.95</text>
<text x="478.9" y="572.3" font-size="10.8" textLength="18.1" lengthAdjust="spacingAndGlyphs" fill="#2b2b2b">MIN</text>
<text x="503.4" y="572.3" font-size="10.8" textLength="7.8" lengthAdjust="spacingAndGlyphs" fill="#2b2b2b">=</text>
<text x="554.9" y="572.3" font-size="10.8" text-anchor="end" textLength="27.6" lengthAdjust="spacingAndGlyphs" fill="#2b2b2b">-0.11</text>
<text x="563.8" y="572.3" font-size="10.8" textLength="20.3" lengthAdjust="spacingAndGlyphs" fill="#2b2b2b">MAX</text>
<text x="591.6" y="572.3" font-size="10.8" textLength="7.8" lengthAdjust="spacingAndGlyphs" fill="#2b2b2b">=</text>
<text x="616.9" y="572.3" font-size="10.8" textLength="23.4" lengthAdjust="spacingAndGlyphs" fill="#2b2b2b">0.10</text>
<rect x="528.3" y="594.5" width="29.3" height="12.8" fill="#ff1493" stroke="#1a1a1a" stroke-width="0.7"/>
<rect x="528.3" y="607.3" width="29.3" height="12.8" fill="#ffb6c1" stroke="#1a1a1a" stroke-width="0.7"/>
<rect x="528.3" y="620.1" width="29.3" height="12.8" fill="#b22222" stroke="#1a1a1a" stroke-width="0.7"/>
<rect x="528.3" y="632.9" width="29.3" height="12.8" fill="#ff4500" stroke="#1a1a1a" stroke-width="0.7"/>
<rect x="528.3" y="645.8" width="29.3" height="12.8" fill="#ffa500" stroke="#1a1a1a" stroke-width="0.7"/>
<rect x="528.3" y="658.6" width="29.3" height="12.8" fill="#ffe100" stroke="#1a1a1a" stroke-width="0.7"/>
<rect x="528.3" y="671.4" width="29.3" height="12.8" fill="#deb887" stroke="#1a1a1a" stroke-width="0.7"/>
<rect x="528.3" y="684.2" width="29.3" height="12.8" fill="#f5e6be" stroke="#1a1a1a" stroke-width="0.7"/>
<rect x="528.3" y="697" width="29.3" height="12.8" fill="#9abe32" stroke="#1a1a1a" stroke-width="0.7"/>
<rect x="528.3" y="709.8" width="29.3" height="12.8" fill="#bef264" stroke="#1a1a1a" stroke-width="0.7"/>
<rect x="528.3" y="722.6" width="29.3" height="12.8" fill="#20b2aa" stroke="#1a1a1a" stroke-width="0.7"/>
<rect x="528.3" y="735.4" width="29.3" height="12.8" fill="#b0e0e6" stroke="#1a1a1a" stroke-width="0.7"/>
<rect x="528.3" y="748.2" width="29.3" height="12.8" fill="#789bf2" stroke="#1a1a1a" stroke-width="0.7"/>
<rect x="528.3" y="761.1" width="29.3" height="12.8" fill="#3c64e6" stroke="#1a1a1a" stroke-width="0.7"/>
<rect x="528.3" y="773.9" width="29.3" height="12.8" fill="#0000c8" stroke="#1a1a1a" stroke-width="0.7"/>
<rect x="528.3" y="786.7" width="29.3" height="12.8" fill="#9370db" stroke="#1a1a1a" stroke-width="0.7"/>
<text x="576.8" y="611.3" font-size="10.4" text-anchor="middle" textLength="23" lengthAdjust="spacingAndGlyphs" fill="#2b2b2b">0.25</text>
<text x="576.8" y="624.1" font-size="10.4" text-anchor="middle" textLength="16.2" lengthAdjust="spacingAndGlyphs" fill="#2b2b2b">0.2</text>
<text x="576.8" y="636.9" font-size="10.4" text-anchor="middle" textLength="23" lengthAdjust="spacingAndGlyphs" fill="#2b2b2b">0.15</text>
<text x="576.8" y="649.8" font-size="10.4" text-anchor="middle" textLength="16.2" lengthAdjust="spacingAndGlyphs" fill="#2b2b2b">0.1</text>
<text x="576.8" y="662.6" font-size="10.4" text-anchor="middle" textLength="23" lengthAdjust="spacingAndGlyphs" fill="#2b2b2b">0.07</text>
<text x="576.8" y="675.4" font-size="10.4" text-anchor="middle" textLength="23" lengthAdjust="spacingAndGlyphs" fill="#2b2b2b">0.05</text>
<text x="576.8" y="688.2" font-size="10.4" text-anchor="middle" textLength="23" lengthAdjust="spacingAndGlyphs" fill="#2b2b2b">0.03</text>
<text x="576.8" y="701" font-size="10.4" text-anchor="middle" textLength="6.2" lengthAdjust="spacingAndGlyphs" fill="#2b2b2b">0</text>
<text x="592.3" y="713.8" font-size="10.4" text-anchor="end" textLength="27.8" lengthAdjust="spacingAndGlyphs" fill="#2b2b2b">-0.03</text>
<text x="592.3" y="726.6" font-size="10.4" text-anchor="end" textLength="27.8" lengthAdjust="spacingAndGlyphs" fill="#2b2b2b">-0.05</text>
<text x="592.3" y="739.4" font-size="10.4" text-anchor="end" textLength="27.8" lengthAdjust="spacingAndGlyphs" fill="#2b2b2b">-0.07</text>
<text x="588.5" y="752.2" font-size="10.4" text-anchor="end" textLength="20.3" lengthAdjust="spacingAndGlyphs" fill="#2b2b2b">-0.1</text>
<text x="592.3" y="765.1" font-size="10.4" text-anchor="end" textLength="27.8" lengthAdjust="spacingAndGlyphs" fill="#2b2b2b">-0.15</text>
<text x="588.5" y="777.9" font-size="10.4" text-anchor="end" textLength="20.3" lengthAdjust="spacingAndGlyphs" fill="#2b2b2b">-0.2</text>
<text x="592.3" y="790.7" font-size="10.4" text-anchor="end" textLength="27.8" lengthAdjust="spacingAndGlyphs" fill="#2b2b2b">-0.25</text>
</svg>
</body></html>
